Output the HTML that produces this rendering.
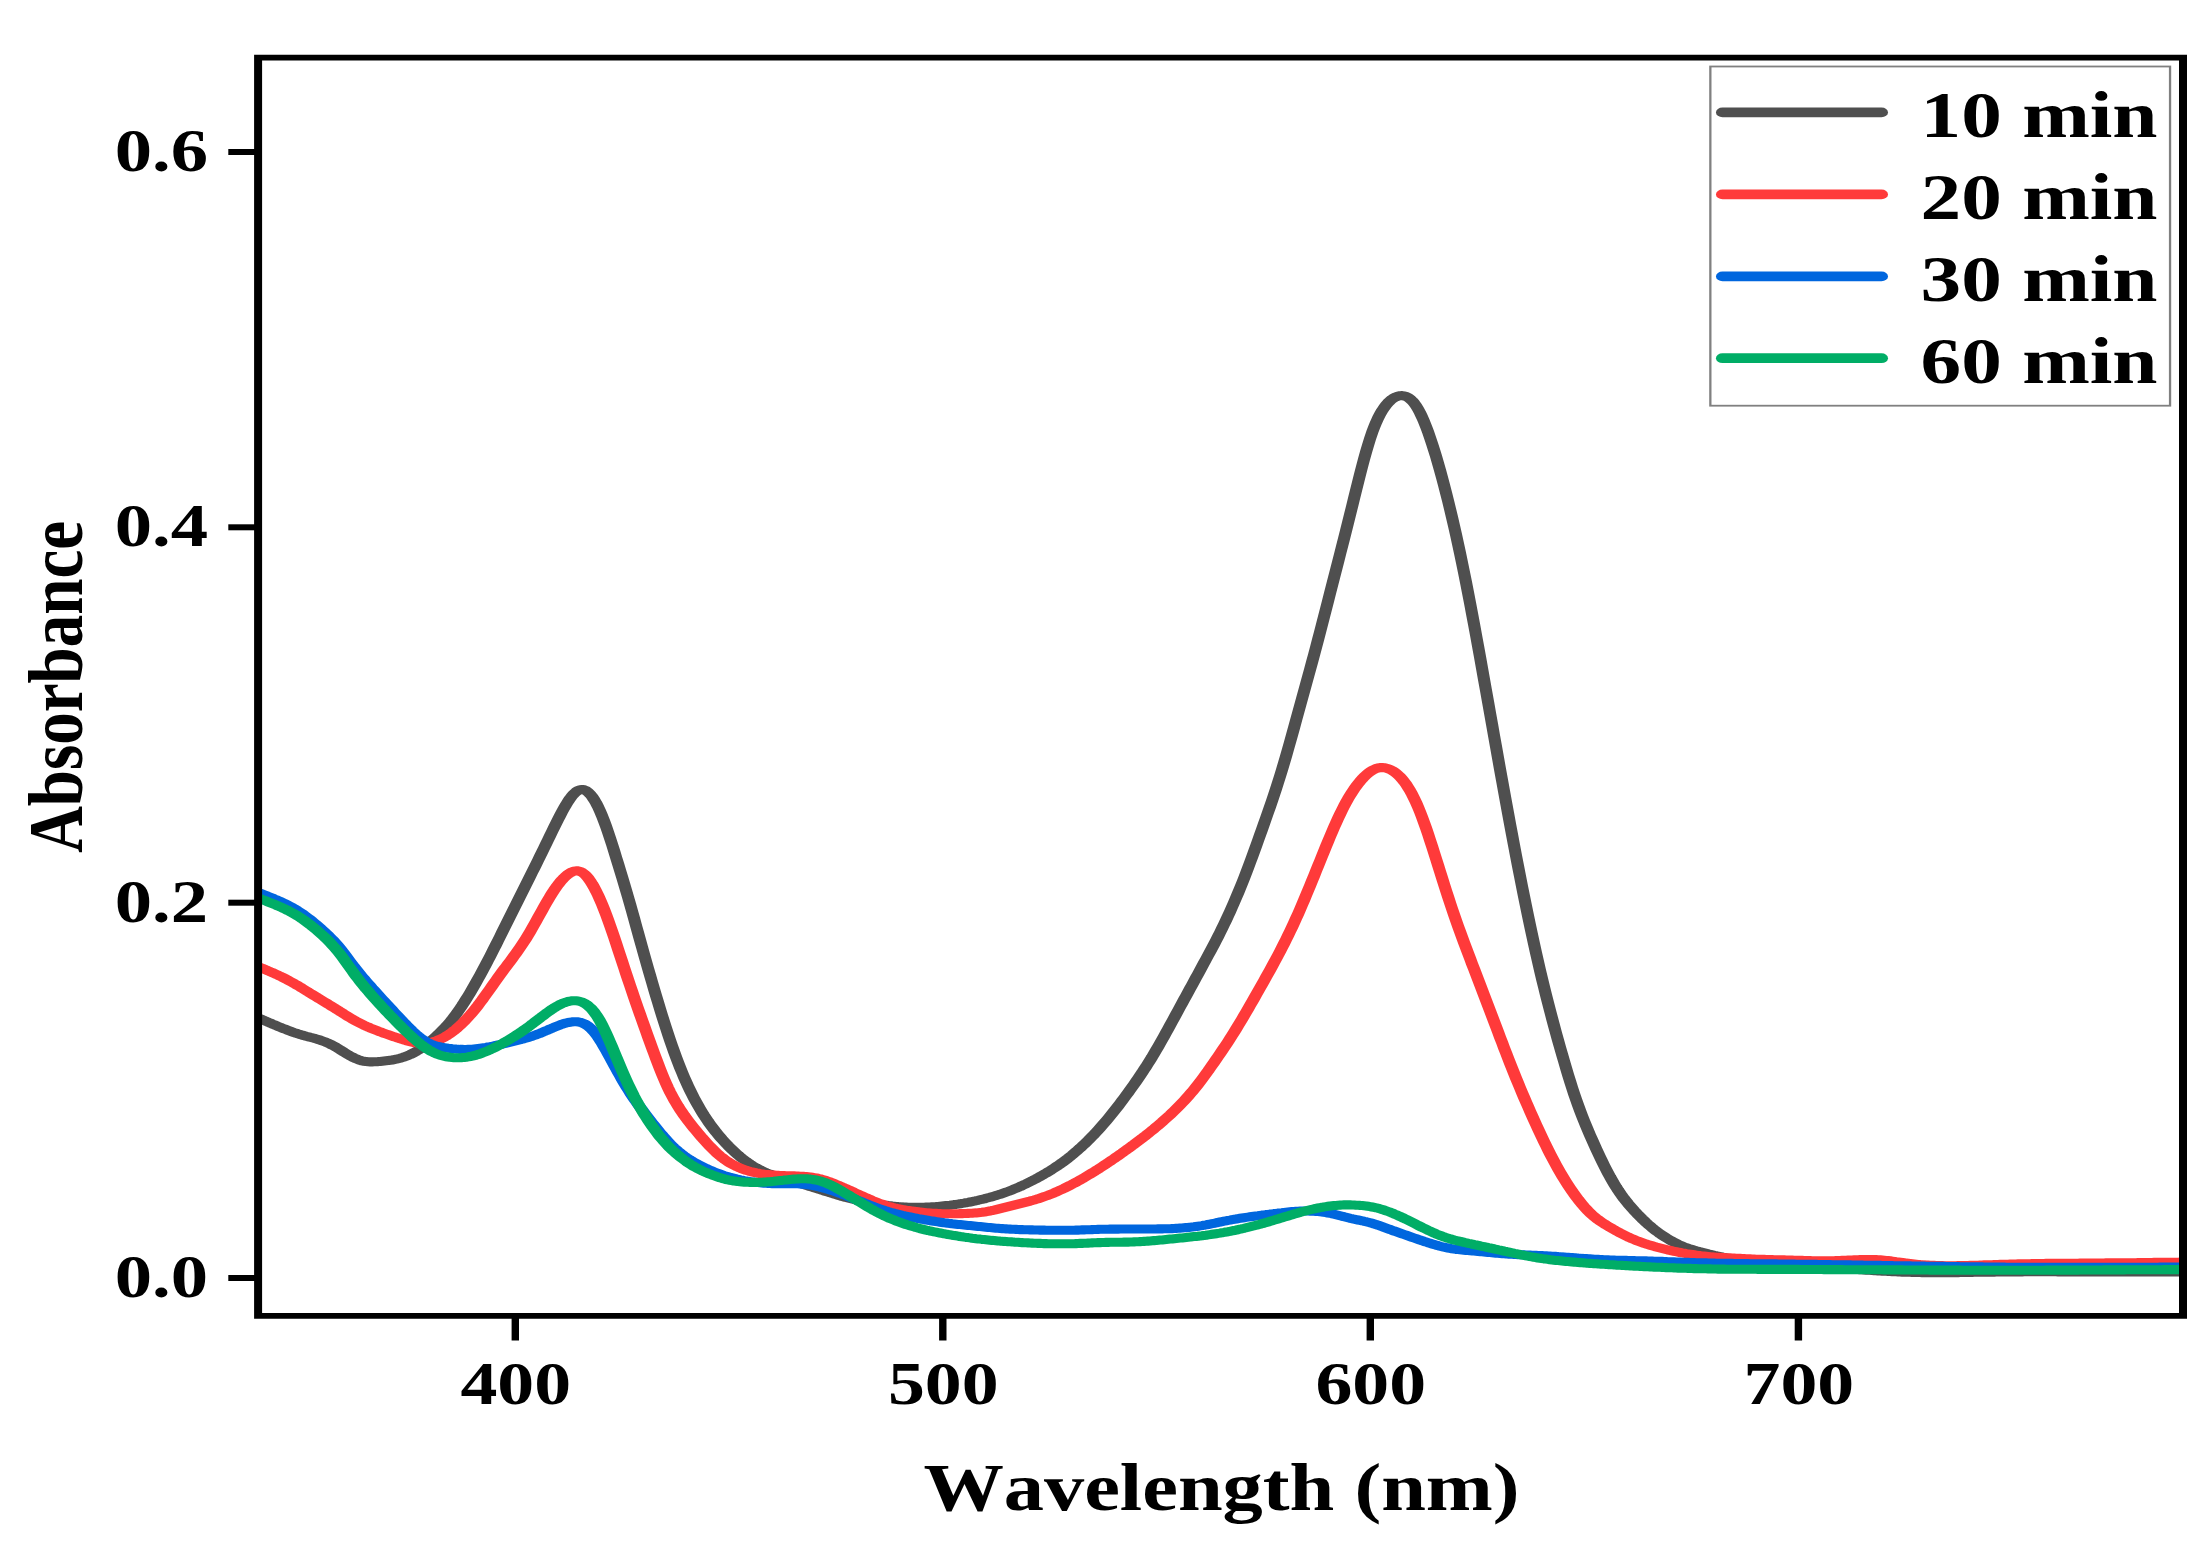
<!DOCTYPE html>
<html lang="en"><head><meta charset="utf-8"><title>Absorbance vs Wavelength</title>
<style>
html,body{margin:0;padding:0;background:#fff;}
body{width:2203px;height:1542px;overflow:hidden;}
svg{display:block;}
text{font-family:"Liberation Serif","Times New Roman",serif;font-weight:bold;fill:#000;font-kerning:none;}
.c{fill:none;stroke-linejoin:round;stroke-linecap:butt;stroke-width:9.1;}
</style></head><body>
<svg width="2203" height="1542" viewBox="0 0 2203 1542">
<rect x="0" y="0" width="2203" height="1542" fill="#ffffff"/>
<defs><clipPath id="ax"><rect x="260.1" y="60.6" width="1920.9" height="1252.3000000000002"/></clipPath></defs>
<g clip-path="url(#ax)"><g transform="scale(1.33,1)">
<path class="c" stroke="#4f4f4f" d="M192.56,1017.9 L194.06,1018.0 L195.56,1018.8 L197.07,1019.6 L198.57,1020.5 L200.08,1021.3 L201.58,1022.2 L203.08,1023.0 L204.59,1023.9 L206.09,1024.7 L207.59,1025.6 L209.10,1026.4 L210.60,1027.2 L212.11,1028.1 L213.61,1028.8 L215.11,1029.6 L216.62,1030.4 L218.12,1031.1 L219.62,1031.9 L221.13,1032.6 L222.63,1033.2 L224.14,1033.9 L225.64,1034.5 L227.14,1035.1 L228.65,1035.6 L230.15,1036.2 L231.65,1036.7 L233.16,1037.3 L234.66,1037.8 L236.17,1038.3 L237.67,1038.9 L239.17,1039.5 L240.68,1040.1 L242.18,1040.8 L243.68,1041.5 L245.19,1042.3 L246.69,1043.2 L248.20,1044.1 L249.70,1045.1 L251.20,1046.2 L252.71,1047.3 L254.21,1048.5 L255.71,1049.7 L257.22,1051.0 L258.72,1052.3 L260.23,1053.5 L261.73,1054.7 L263.23,1055.8 L264.74,1056.9 L266.24,1057.9 L267.74,1058.8 L269.25,1059.6 L270.75,1060.3 L272.26,1060.9 L273.76,1061.3 L275.26,1061.6 L276.77,1061.8 L278.27,1061.9 L279.77,1061.9 L281.28,1061.8 L282.78,1061.7 L284.29,1061.6 L285.79,1061.4 L287.29,1061.2 L288.80,1061.0 L290.30,1060.8 L291.80,1060.6 L293.31,1060.3 L294.81,1060.0 L296.32,1059.6 L297.82,1059.2 L299.32,1058.7 L300.83,1058.2 L302.33,1057.6 L303.83,1057.0 L305.34,1056.2 L306.84,1055.4 L308.35,1054.6 L309.85,1053.6 L311.35,1052.6 L312.86,1051.5 L314.36,1050.3 L315.86,1049.0 L317.37,1047.6 L318.87,1046.2 L320.38,1044.7 L321.88,1043.2 L323.38,1041.5 L324.89,1039.9 L326.39,1038.1 L327.89,1036.3 L329.40,1034.5 L330.90,1032.6 L332.41,1030.6 L333.91,1028.6 L335.41,1026.5 L336.92,1024.2 L338.42,1021.9 L339.92,1019.5 L341.43,1016.9 L342.93,1014.2 L344.44,1011.4 L345.94,1008.5 L347.44,1005.6 L348.95,1002.5 L350.45,999.3 L351.95,996.1 L353.46,992.8 L354.96,989.4 L356.47,985.9 L357.97,982.4 L359.47,978.8 L360.98,975.2 L362.48,971.5 L363.98,967.8 L365.49,964.0 L366.99,960.2 L368.50,956.3 L370.00,952.4 L371.50,948.4 L373.01,944.5 L374.51,940.5 L376.02,936.5 L377.52,932.4 L379.02,928.4 L380.53,924.4 L382.03,920.4 L383.53,916.4 L385.04,912.4 L386.54,908.4 L388.05,904.4 L389.55,900.4 L391.05,896.4 L392.56,892.4 L394.06,888.4 L395.56,884.4 L397.07,880.4 L398.57,876.4 L400.08,872.3 L401.58,868.3 L403.08,864.3 L404.59,860.2 L406.09,856.1 L407.59,852.1 L409.10,848.0 L410.60,843.9 L412.11,839.7 L413.61,835.6 L415.11,831.5 L416.62,827.4 L418.12,823.4 L419.62,819.4 L421.13,815.5 L422.63,811.7 L424.14,808.1 L425.64,804.6 L427.14,801.4 L428.65,798.4 L430.15,795.8 L431.65,793.6 L433.16,791.8 L434.66,790.5 L436.17,789.7 L437.67,789.5 L439.17,789.8 L440.68,790.7 L442.18,792.2 L443.68,794.2 L445.19,796.6 L446.69,799.6 L448.20,803.0 L449.70,806.9 L451.20,811.3 L452.71,816.0 L454.21,821.1 L455.71,826.5 L457.22,832.3 L458.72,838.3 L460.23,844.5 L461.73,850.9 L463.23,857.4 L464.74,863.9 L466.24,870.5 L467.74,877.1 L469.25,883.8 L470.75,890.5 L472.26,897.4 L473.76,904.3 L475.26,911.4 L476.77,918.5 L478.27,925.8 L479.77,933.0 L481.28,940.2 L482.78,947.4 L484.29,954.6 L485.79,961.6 L487.29,968.6 L488.80,975.5 L490.30,982.4 L491.80,989.2 L493.31,996.0 L494.81,1002.6 L496.32,1009.2 L497.82,1015.7 L499.32,1022.0 L500.83,1028.3 L502.33,1034.4 L503.83,1040.4 L505.34,1046.2 L506.84,1051.8 L508.35,1057.2 L509.85,1062.5 L511.35,1067.6 L512.86,1072.5 L514.36,1077.3 L515.86,1081.8 L517.37,1086.2 L518.87,1090.4 L520.38,1094.4 L521.88,1098.3 L523.38,1102.0 L524.89,1105.6 L526.39,1109.0 L527.89,1112.3 L529.40,1115.5 L530.90,1118.5 L532.41,1121.5 L533.91,1124.3 L535.41,1127.0 L536.92,1129.6 L538.42,1132.2 L539.92,1134.6 L541.43,1137.0 L542.93,1139.3 L544.44,1141.5 L545.94,1143.6 L547.44,1145.7 L548.95,1147.7 L550.45,1149.6 L551.95,1151.5 L553.46,1153.3 L554.96,1155.1 L556.47,1156.8 L557.97,1158.4 L559.47,1159.9 L560.98,1161.4 L562.48,1162.8 L563.98,1164.2 L565.49,1165.5 L566.99,1166.7 L568.50,1167.9 L570.00,1168.9 L571.50,1170.0 L573.01,1170.9 L574.51,1171.8 L576.02,1172.7 L577.52,1173.5 L579.02,1174.2 L580.53,1174.9 L582.03,1175.5 L583.53,1176.2 L585.04,1176.8 L586.54,1177.3 L588.05,1177.9 L589.55,1178.5 L591.05,1179.1 L592.56,1179.7 L594.06,1180.3 L595.56,1180.9 L597.07,1181.5 L598.57,1182.1 L600.08,1182.7 L601.58,1183.3 L603.08,1184.0 L604.59,1184.6 L606.09,1185.2 L607.59,1185.8 L609.10,1186.5 L610.60,1187.1 L612.11,1187.7 L613.61,1188.3 L615.11,1189.0 L616.62,1189.6 L618.12,1190.2 L619.62,1190.9 L621.13,1191.5 L622.63,1192.1 L624.14,1192.7 L625.64,1193.4 L627.14,1194.0 L628.65,1194.6 L630.15,1195.2 L631.65,1195.8 L633.16,1196.4 L634.66,1196.9 L636.17,1197.5 L637.67,1198.0 L639.17,1198.5 L640.68,1199.0 L642.18,1199.5 L643.68,1200.0 L645.19,1200.4 L646.69,1200.8 L648.20,1201.3 L649.70,1201.6 L651.20,1202.0 L652.71,1202.4 L654.21,1202.8 L655.71,1203.1 L657.22,1203.4 L658.72,1203.8 L660.23,1204.1 L661.73,1204.4 L663.23,1204.7 L664.74,1205.0 L666.24,1205.2 L667.74,1205.5 L669.25,1205.7 L670.75,1206.0 L672.26,1206.2 L673.76,1206.4 L675.26,1206.6 L676.77,1206.7 L678.27,1206.9 L679.77,1207.0 L681.28,1207.1 L682.78,1207.2 L684.29,1207.2 L685.79,1207.3 L687.29,1207.3 L688.80,1207.3 L690.30,1207.3 L691.80,1207.3 L693.31,1207.3 L694.81,1207.2 L696.32,1207.1 L697.82,1207.1 L699.32,1207.0 L700.83,1206.8 L702.33,1206.7 L703.83,1206.6 L705.34,1206.4 L706.84,1206.2 L708.35,1206.0 L709.85,1205.8 L711.35,1205.6 L712.86,1205.4 L714.36,1205.2 L715.86,1204.9 L717.37,1204.6 L718.87,1204.4 L720.38,1204.1 L721.88,1203.8 L723.38,1203.4 L724.89,1203.1 L726.39,1202.7 L727.89,1202.4 L729.40,1202.0 L730.90,1201.6 L732.41,1201.2 L733.91,1200.7 L735.41,1200.3 L736.92,1199.8 L738.42,1199.3 L739.92,1198.9 L741.43,1198.3 L742.93,1197.8 L744.44,1197.3 L745.94,1196.7 L747.44,1196.1 L748.95,1195.5 L750.45,1194.9 L751.95,1194.3 L753.46,1193.6 L754.96,1192.9 L756.47,1192.2 L757.97,1191.5 L759.47,1190.7 L760.98,1189.9 L762.48,1189.1 L763.98,1188.3 L765.49,1187.4 L766.99,1186.6 L768.50,1185.6 L770.00,1184.7 L771.50,1183.8 L773.01,1182.8 L774.51,1181.8 L776.02,1180.8 L777.52,1179.7 L779.02,1178.7 L780.53,1177.6 L782.03,1176.5 L783.53,1175.4 L785.04,1174.2 L786.54,1173.1 L788.05,1171.9 L789.55,1170.7 L791.05,1169.4 L792.56,1168.1 L794.06,1166.8 L795.56,1165.5 L797.07,1164.1 L798.57,1162.7 L800.08,1161.2 L801.58,1159.7 L803.08,1158.2 L804.59,1156.6 L806.09,1155.0 L807.59,1153.3 L809.10,1151.6 L810.60,1149.8 L812.11,1148.1 L813.61,1146.2 L815.11,1144.4 L816.62,1142.4 L818.12,1140.5 L819.62,1138.5 L821.13,1136.4 L822.63,1134.4 L824.14,1132.2 L825.64,1130.1 L827.14,1127.9 L828.65,1125.6 L830.15,1123.3 L831.65,1121.0 L833.16,1118.6 L834.66,1116.2 L836.17,1113.7 L837.67,1111.2 L839.17,1108.7 L840.68,1106.1 L842.18,1103.5 L843.68,1100.8 L845.19,1098.1 L846.69,1095.4 L848.20,1092.7 L849.70,1089.9 L851.20,1087.1 L852.71,1084.3 L854.21,1081.5 L855.71,1078.6 L857.22,1075.6 L858.72,1072.7 L860.23,1069.6 L861.73,1066.6 L863.23,1063.4 L864.74,1060.2 L866.24,1057.0 L867.74,1053.6 L869.25,1050.2 L870.75,1046.8 L872.26,1043.3 L873.76,1039.8 L875.26,1036.2 L876.77,1032.6 L878.27,1029.0 L879.77,1025.3 L881.28,1021.6 L882.78,1018.0 L884.29,1014.3 L885.79,1010.6 L887.29,1006.9 L888.80,1003.2 L890.30,999.5 L891.80,995.9 L893.31,992.2 L894.81,988.5 L896.32,984.9 L897.82,981.2 L899.32,977.5 L900.83,973.9 L902.33,970.2 L903.83,966.5 L905.34,962.8 L906.84,959.1 L908.35,955.4 L909.85,951.7 L911.35,948.0 L912.86,944.2 L914.36,940.4 L915.86,936.5 L917.37,932.5 L918.87,928.4 L920.38,924.3 L921.88,920.1 L923.38,915.8 L924.89,911.4 L926.39,906.9 L927.89,902.4 L929.40,897.7 L930.90,893.0 L932.41,888.2 L933.91,883.2 L935.41,878.2 L936.92,873.0 L938.42,867.8 L939.92,862.4 L941.43,857.0 L942.93,851.5 L944.44,846.0 L945.94,840.4 L947.44,834.8 L948.95,829.2 L950.45,823.5 L951.95,817.9 L953.46,812.2 L954.96,806.5 L956.47,800.6 L957.97,794.7 L959.47,788.6 L960.98,782.3 L962.48,776.0 L963.98,769.4 L965.49,762.7 L966.99,755.9 L968.50,748.9 L970.00,741.9 L971.50,734.7 L973.01,727.5 L974.51,720.2 L976.02,712.9 L977.52,705.6 L979.02,698.4 L980.53,691.1 L982.03,683.9 L983.53,676.6 L985.04,669.3 L986.54,662.0 L988.05,654.6 L989.55,647.1 L991.05,639.5 L992.56,631.9 L994.06,624.2 L995.56,616.4 L997.07,608.6 L998.57,600.8 L1000.08,592.9 L1001.58,585.1 L1003.08,577.3 L1004.59,569.6 L1006.09,561.8 L1007.59,554.0 L1009.10,546.2 L1010.60,538.3 L1012.11,530.4 L1013.61,522.4 L1015.11,514.4 L1016.62,506.3 L1018.12,498.2 L1019.62,490.1 L1021.13,482.1 L1022.63,474.1 L1024.14,466.4 L1025.64,458.9 L1027.14,451.7 L1028.65,444.9 L1030.15,438.5 L1031.65,432.6 L1033.16,427.3 L1034.66,422.4 L1036.17,418.0 L1037.67,414.1 L1039.17,410.7 L1040.68,407.7 L1042.18,405.0 L1043.68,402.7 L1045.19,400.8 L1046.69,399.1 L1048.20,397.8 L1049.70,396.8 L1051.20,396.1 L1052.71,395.7 L1054.21,395.6 L1055.71,395.9 L1057.22,396.5 L1058.72,397.5 L1060.23,399.0 L1061.73,400.8 L1063.23,403.1 L1064.74,405.9 L1066.24,409.1 L1067.74,412.9 L1069.25,417.1 L1070.75,421.7 L1072.26,426.8 L1073.76,432.1 L1075.26,437.8 L1076.77,443.8 L1078.27,450.1 L1079.77,456.6 L1081.28,463.4 L1082.78,470.5 L1084.29,477.8 L1085.79,485.3 L1087.29,493.1 L1088.80,501.0 L1090.30,509.2 L1091.80,517.6 L1093.31,526.3 L1094.81,535.1 L1096.32,544.2 L1097.82,553.5 L1099.32,563.1 L1100.83,572.9 L1102.33,582.8 L1103.83,593.0 L1105.34,603.4 L1106.84,614.0 L1108.35,624.6 L1109.85,635.5 L1111.35,646.4 L1112.86,657.4 L1114.36,668.6 L1115.86,679.8 L1117.37,691.0 L1118.87,702.2 L1120.38,713.5 L1121.88,724.7 L1123.38,736.0 L1124.89,747.2 L1126.39,758.4 L1127.89,769.6 L1129.40,780.7 L1130.90,791.7 L1132.41,802.7 L1133.91,813.5 L1135.41,824.3 L1136.92,835.0 L1138.42,845.6 L1139.92,856.1 L1141.43,866.5 L1142.93,876.7 L1144.44,886.8 L1145.94,896.7 L1147.44,906.5 L1148.95,916.2 L1150.45,925.7 L1151.95,935.0 L1153.46,944.2 L1154.96,953.2 L1156.47,962.0 L1157.97,970.7 L1159.47,979.1 L1160.98,987.3 L1162.48,995.4 L1163.98,1003.2 L1165.49,1010.9 L1166.99,1018.5 L1168.50,1026.0 L1170.00,1033.3 L1171.50,1040.5 L1173.01,1047.6 L1174.51,1054.5 L1176.02,1061.4 L1177.52,1068.2 L1179.02,1074.9 L1180.53,1081.4 L1182.03,1087.7 L1183.53,1093.8 L1185.04,1099.7 L1186.54,1105.3 L1188.05,1110.8 L1189.55,1116.0 L1191.05,1121.0 L1192.56,1125.9 L1194.06,1130.7 L1195.56,1135.3 L1197.07,1139.8 L1198.57,1144.3 L1200.08,1148.7 L1201.58,1153.0 L1203.08,1157.3 L1204.59,1161.4 L1206.09,1165.5 L1207.59,1169.4 L1209.10,1173.2 L1210.60,1176.9 L1212.11,1180.4 L1213.61,1183.8 L1215.11,1187.1 L1216.62,1190.2 L1218.12,1193.1 L1219.62,1196.0 L1221.13,1198.7 L1222.63,1201.2 L1224.14,1203.7 L1225.64,1206.0 L1227.14,1208.3 L1228.65,1210.6 L1230.15,1212.7 L1231.65,1214.8 L1233.16,1216.8 L1234.66,1218.8 L1236.17,1220.7 L1237.67,1222.6 L1239.17,1224.4 L1240.68,1226.1 L1242.18,1227.8 L1243.68,1229.4 L1245.19,1230.9 L1246.69,1232.4 L1248.20,1233.9 L1249.70,1235.2 L1251.20,1236.5 L1252.71,1237.8 L1254.21,1239.0 L1255.71,1240.2 L1257.22,1241.3 L1258.72,1242.4 L1260.23,1243.4 L1261.73,1244.4 L1263.23,1245.3 L1264.74,1246.1 L1266.24,1246.9 L1267.74,1247.7 L1269.25,1248.3 L1270.75,1249.0 L1272.26,1249.6 L1273.76,1250.2 L1275.26,1250.8 L1276.77,1251.3 L1278.27,1251.9 L1279.77,1252.4 L1281.28,1252.9 L1282.78,1253.4 L1284.29,1253.9 L1285.79,1254.3 L1287.29,1254.8 L1288.80,1255.3 L1290.30,1255.7 L1291.80,1256.2 L1293.31,1256.6 L1294.81,1257.0 L1296.32,1257.5 L1297.82,1257.9 L1299.32,1258.3 L1300.83,1258.7 L1302.33,1259.1 L1303.83,1259.4 L1305.34,1259.8 L1306.84,1260.1 L1308.35,1260.5 L1309.85,1260.8 L1311.35,1261.1 L1312.86,1261.4 L1314.36,1261.7 L1315.86,1262.0 L1317.37,1262.3 L1318.87,1262.5 L1320.38,1262.7 L1321.88,1263.0 L1323.38,1263.2 L1324.89,1263.4 L1326.39,1263.6 L1327.89,1263.8 L1329.40,1263.9 L1330.90,1264.1 L1332.41,1264.3 L1333.91,1264.4 L1335.41,1264.6 L1336.92,1264.7 L1338.42,1264.9 L1339.92,1265.0 L1341.43,1265.1 L1342.93,1265.2 L1344.44,1265.3 L1345.94,1265.5 L1347.44,1265.6 L1348.95,1265.7 L1350.45,1265.8 L1351.95,1265.9 L1353.46,1266.0 L1354.96,1266.1 L1356.47,1266.2 L1357.97,1266.4 L1359.47,1266.5 L1360.98,1266.6 L1362.48,1266.7 L1363.98,1266.8 L1365.49,1266.9 L1366.99,1267.0 L1368.50,1267.2 L1370.00,1267.3 L1371.50,1267.4 L1373.01,1267.5 L1374.51,1267.6 L1376.02,1267.7 L1377.52,1267.9 L1379.02,1268.0 L1380.53,1268.1 L1382.03,1268.2 L1383.53,1268.4 L1385.04,1268.5 L1386.54,1268.6 L1388.05,1268.8 L1389.55,1268.9 L1391.05,1269.0 L1392.56,1269.1 L1394.06,1269.3 L1395.56,1269.4 L1397.07,1269.5 L1398.57,1269.7 L1400.08,1269.8 L1401.58,1270.0 L1403.08,1270.1 L1404.59,1270.2 L1406.09,1270.3 L1407.59,1270.5 L1409.10,1270.6 L1410.60,1270.7 L1412.11,1270.9 L1413.61,1271.0 L1415.11,1271.1 L1416.62,1271.2 L1418.12,1271.3 L1419.62,1271.4 L1421.13,1271.5 L1422.63,1271.6 L1424.14,1271.7 L1425.64,1271.8 L1427.14,1271.9 L1428.65,1272.0 L1430.15,1272.1 L1431.65,1272.1 L1433.16,1272.2 L1434.66,1272.3 L1436.17,1272.3 L1437.67,1272.4 L1439.17,1272.4 L1440.68,1272.5 L1442.18,1272.5 L1443.68,1272.5 L1445.19,1272.6 L1446.69,1272.6 L1448.20,1272.6 L1449.70,1272.6 L1451.20,1272.6 L1452.71,1272.7 L1454.21,1272.7 L1455.71,1272.7 L1457.22,1272.7 L1458.72,1272.7 L1460.23,1272.7 L1461.73,1272.7 L1463.23,1272.6 L1464.74,1272.6 L1466.24,1272.6 L1467.74,1272.6 L1469.25,1272.6 L1470.75,1272.6 L1472.26,1272.6 L1473.76,1272.5 L1475.26,1272.5 L1476.77,1272.5 L1478.27,1272.5 L1479.77,1272.4 L1481.28,1272.4 L1482.78,1272.4 L1484.29,1272.3 L1485.79,1272.3 L1487.29,1272.3 L1488.80,1272.3 L1490.30,1272.2 L1491.80,1272.2 L1493.31,1272.2 L1494.81,1272.2 L1496.32,1272.1 L1497.82,1272.1 L1499.32,1272.1 L1500.83,1272.0 L1502.33,1272.0 L1503.83,1272.0 L1505.34,1272.0 L1506.84,1272.0 L1508.35,1271.9 L1509.85,1271.9 L1511.35,1271.9 L1512.86,1271.9 L1514.36,1271.9 L1515.86,1271.9 L1517.37,1271.9 L1518.87,1271.9 L1520.38,1271.9 L1521.88,1271.8 L1523.38,1271.8 L1524.89,1271.8 L1526.39,1271.8 L1527.89,1271.8 L1529.40,1271.8 L1530.90,1271.8 L1532.41,1271.8 L1533.91,1271.8 L1535.41,1271.8 L1536.92,1271.8 L1538.42,1271.8 L1539.92,1271.8 L1541.43,1271.8 L1542.93,1271.8 L1544.44,1271.8 L1545.94,1271.8 L1547.44,1271.9 L1548.95,1271.9 L1550.45,1271.9 L1551.95,1271.9 L1553.46,1271.9 L1554.96,1271.9 L1556.47,1271.9 L1557.97,1271.9 L1559.47,1271.9 L1560.98,1271.9 L1562.48,1271.9 L1563.98,1271.9 L1565.49,1271.9 L1566.99,1271.9 L1568.50,1272.0 L1570.00,1272.0 L1571.50,1272.0 L1573.01,1272.0 L1574.51,1272.0 L1576.02,1272.0 L1577.52,1272.0 L1579.02,1272.0 L1580.53,1272.0 L1582.03,1272.0 L1583.53,1272.0 L1585.04,1272.0 L1586.54,1272.0 L1588.05,1272.0 L1589.55,1272.0 L1591.05,1272.0 L1592.56,1272.0 L1594.06,1272.0 L1595.56,1272.0 L1597.07,1272.0 L1598.57,1272.0 L1600.08,1272.0 L1601.58,1272.0 L1603.08,1272.0 L1604.59,1272.0 L1606.09,1272.0 L1607.59,1272.0 L1609.10,1272.0 L1610.60,1272.0 L1612.11,1272.0 L1613.61,1272.0 L1615.11,1272.0 L1616.62,1272.0 L1618.12,1272.0 L1619.62,1272.0 L1621.13,1272.0 L1622.63,1272.0 L1624.14,1272.0 L1625.64,1272.0 L1627.14,1272.0 L1628.65,1272.0 L1630.15,1272.0 L1631.65,1272.0 L1633.16,1272.0 L1634.66,1272.0 L1636.17,1272.0 L1637.67,1272.0 L1639.17,1272.0 L1640.68,1272.0 L1642.18,1272.0"/>
<path class="c" stroke="#ff3a3a" d="M192.56,966.5 L194.06,966.6 L195.56,967.4 L197.07,968.2 L198.57,969.1 L200.08,969.9 L201.58,970.8 L203.08,971.7 L204.59,972.5 L206.09,973.4 L207.59,974.3 L209.10,975.2 L210.60,976.2 L212.11,977.1 L213.61,978.1 L215.11,979.1 L216.62,980.2 L218.12,981.3 L219.62,982.4 L221.13,983.5 L222.63,984.7 L224.14,985.8 L225.64,987.0 L227.14,988.3 L228.65,989.5 L230.15,990.7 L231.65,991.9 L233.16,993.2 L234.66,994.4 L236.17,995.6 L237.67,996.8 L239.17,998.1 L240.68,999.3 L242.18,1000.5 L243.68,1001.7 L245.19,1002.9 L246.69,1004.1 L248.20,1005.4 L249.70,1006.6 L251.20,1007.8 L252.71,1009.1 L254.21,1010.3 L255.71,1011.6 L257.22,1012.8 L258.72,1014.1 L260.23,1015.4 L261.73,1016.6 L263.23,1017.8 L264.74,1019.0 L266.24,1020.1 L267.74,1021.3 L269.25,1022.3 L270.75,1023.3 L272.26,1024.3 L273.76,1025.3 L275.26,1026.2 L276.77,1027.0 L278.27,1027.9 L279.77,1028.7 L281.28,1029.5 L282.78,1030.3 L284.29,1031.1 L285.79,1031.8 L287.29,1032.6 L288.80,1033.3 L290.30,1034.0 L291.80,1034.7 L293.31,1035.4 L294.81,1036.1 L296.32,1036.8 L297.82,1037.4 L299.32,1038.1 L300.83,1038.7 L302.33,1039.4 L303.83,1040.0 L305.34,1040.6 L306.84,1041.1 L308.35,1041.6 L309.85,1042.1 L311.35,1042.5 L312.86,1042.8 L314.36,1043.1 L315.86,1043.2 L317.37,1043.3 L318.87,1043.2 L320.38,1043.1 L321.88,1042.8 L323.38,1042.5 L324.89,1042.1 L326.39,1041.5 L327.89,1040.9 L329.40,1040.1 L330.90,1039.3 L332.41,1038.4 L333.91,1037.3 L335.41,1036.2 L336.92,1034.9 L338.42,1033.6 L339.92,1032.1 L341.43,1030.6 L342.93,1029.0 L344.44,1027.2 L345.94,1025.4 L347.44,1023.5 L348.95,1021.5 L350.45,1019.4 L351.95,1017.2 L353.46,1015.0 L354.96,1012.7 L356.47,1010.3 L357.97,1007.8 L359.47,1005.3 L360.98,1002.6 L362.48,1000.0 L363.98,997.2 L365.49,994.4 L366.99,991.6 L368.50,988.8 L370.00,986.0 L371.50,983.1 L373.01,980.3 L374.51,977.5 L376.02,974.8 L377.52,972.0 L379.02,969.3 L380.53,966.7 L382.03,964.0 L383.53,961.4 L385.04,958.7 L386.54,955.9 L388.05,953.2 L389.55,950.4 L391.05,947.5 L392.56,944.5 L394.06,941.5 L395.56,938.4 L397.07,935.1 L398.57,931.8 L400.08,928.3 L401.58,924.8 L403.08,921.2 L404.59,917.6 L406.09,914.0 L407.59,910.4 L409.10,906.8 L410.60,903.3 L412.11,899.9 L413.61,896.5 L415.11,893.3 L416.62,890.2 L418.12,887.3 L419.62,884.6 L421.13,882.1 L422.63,879.8 L424.14,877.7 L425.64,875.8 L427.14,874.2 L428.65,872.9 L430.15,871.9 L431.65,871.2 L433.16,870.8 L434.66,870.9 L436.17,871.5 L437.67,872.4 L439.17,873.9 L440.68,875.7 L442.18,878.0 L443.68,880.8 L445.19,883.9 L446.69,887.4 L448.20,891.2 L449.70,895.3 L451.20,899.7 L452.71,904.4 L454.21,909.4 L455.71,914.6 L457.22,920.0 L458.72,925.6 L460.23,931.4 L461.73,937.2 L463.23,943.2 L464.74,949.3 L466.24,955.3 L467.74,961.4 L469.25,967.5 L470.75,973.6 L472.26,979.6 L473.76,985.5 L475.26,991.4 L476.77,997.3 L478.27,1003.1 L479.77,1008.8 L481.28,1014.5 L482.78,1020.2 L484.29,1025.8 L485.79,1031.4 L487.29,1037.0 L488.80,1042.5 L490.30,1048.0 L491.80,1053.4 L493.31,1058.8 L494.81,1064.1 L496.32,1069.2 L497.82,1074.2 L499.32,1079.0 L500.83,1083.6 L502.33,1088.0 L503.83,1092.1 L505.34,1095.9 L506.84,1099.6 L508.35,1103.0 L509.85,1106.3 L511.35,1109.4 L512.86,1112.4 L514.36,1115.3 L515.86,1118.0 L517.37,1120.7 L518.87,1123.3 L520.38,1125.8 L521.88,1128.3 L523.38,1130.7 L524.89,1133.1 L526.39,1135.4 L527.89,1137.8 L529.40,1140.1 L530.90,1142.3 L532.41,1144.5 L533.91,1146.6 L535.41,1148.6 L536.92,1150.6 L538.42,1152.5 L539.92,1154.3 L541.43,1156.0 L542.93,1157.6 L544.44,1159.1 L545.94,1160.5 L547.44,1161.9 L548.95,1163.1 L550.45,1164.3 L551.95,1165.3 L553.46,1166.3 L554.96,1167.2 L556.47,1168.1 L557.97,1168.9 L559.47,1169.6 L560.98,1170.3 L562.48,1170.9 L563.98,1171.5 L565.49,1172.0 L566.99,1172.4 L568.50,1172.9 L570.00,1173.2 L571.50,1173.6 L573.01,1173.9 L574.51,1174.2 L576.02,1174.4 L577.52,1174.6 L579.02,1174.8 L580.53,1175.0 L582.03,1175.1 L583.53,1175.3 L585.04,1175.4 L586.54,1175.5 L588.05,1175.5 L589.55,1175.6 L591.05,1175.7 L592.56,1175.7 L594.06,1175.8 L595.56,1175.9 L597.07,1175.9 L598.57,1176.0 L600.08,1176.1 L601.58,1176.2 L603.08,1176.3 L604.59,1176.4 L606.09,1176.6 L607.59,1176.8 L609.10,1177.0 L610.60,1177.3 L612.11,1177.6 L613.61,1177.9 L615.11,1178.4 L616.62,1178.8 L618.12,1179.4 L619.62,1180.0 L621.13,1180.6 L622.63,1181.3 L624.14,1182.0 L625.64,1182.8 L627.14,1183.6 L628.65,1184.4 L630.15,1185.2 L631.65,1186.1 L633.16,1187.0 L634.66,1187.8 L636.17,1188.7 L637.67,1189.6 L639.17,1190.5 L640.68,1191.4 L642.18,1192.4 L643.68,1193.3 L645.19,1194.2 L646.69,1195.1 L648.20,1196.0 L649.70,1196.9 L651.20,1197.8 L652.71,1198.6 L654.21,1199.5 L655.71,1200.4 L657.22,1201.2 L658.72,1202.0 L660.23,1202.8 L661.73,1203.5 L663.23,1204.2 L664.74,1204.9 L666.24,1205.6 L667.74,1206.2 L669.25,1206.7 L670.75,1207.3 L672.26,1207.8 L673.76,1208.2 L675.26,1208.7 L676.77,1209.1 L678.27,1209.5 L679.77,1209.8 L681.28,1210.2 L682.78,1210.5 L684.29,1210.8 L685.79,1211.1 L687.29,1211.3 L688.80,1211.6 L690.30,1211.8 L691.80,1212.1 L693.31,1212.3 L694.81,1212.5 L696.32,1212.7 L697.82,1212.9 L699.32,1213.0 L700.83,1213.2 L702.33,1213.3 L703.83,1213.4 L705.34,1213.5 L706.84,1213.6 L708.35,1213.7 L709.85,1213.7 L711.35,1213.7 L712.86,1213.8 L714.36,1213.8 L715.86,1213.8 L717.37,1213.7 L718.87,1213.7 L720.38,1213.7 L721.88,1213.6 L723.38,1213.6 L724.89,1213.5 L726.39,1213.5 L727.89,1213.4 L729.40,1213.3 L730.90,1213.2 L732.41,1213.0 L733.91,1212.9 L735.41,1212.7 L736.92,1212.5 L738.42,1212.3 L739.92,1212.0 L741.43,1211.7 L742.93,1211.3 L744.44,1211.0 L745.94,1210.5 L747.44,1210.1 L748.95,1209.6 L750.45,1209.1 L751.95,1208.6 L753.46,1208.1 L754.96,1207.6 L756.47,1207.1 L757.97,1206.6 L759.47,1206.1 L760.98,1205.6 L762.48,1205.1 L763.98,1204.6 L765.49,1204.1 L766.99,1203.6 L768.50,1203.1 L770.00,1202.6 L771.50,1202.1 L773.01,1201.6 L774.51,1201.1 L776.02,1200.5 L777.52,1200.0 L779.02,1199.4 L780.53,1198.8 L782.03,1198.1 L783.53,1197.4 L785.04,1196.7 L786.54,1196.0 L788.05,1195.3 L789.55,1194.5 L791.05,1193.7 L792.56,1192.9 L794.06,1192.0 L795.56,1191.1 L797.07,1190.2 L798.57,1189.3 L800.08,1188.4 L801.58,1187.4 L803.08,1186.4 L804.59,1185.4 L806.09,1184.3 L807.59,1183.3 L809.10,1182.2 L810.60,1181.1 L812.11,1180.0 L813.61,1178.9 L815.11,1177.7 L816.62,1176.5 L818.12,1175.3 L819.62,1174.1 L821.13,1172.9 L822.63,1171.7 L824.14,1170.4 L825.64,1169.2 L827.14,1167.9 L828.65,1166.6 L830.15,1165.3 L831.65,1164.0 L833.16,1162.6 L834.66,1161.3 L836.17,1159.9 L837.67,1158.6 L839.17,1157.2 L840.68,1155.8 L842.18,1154.4 L843.68,1153.0 L845.19,1151.5 L846.69,1150.1 L848.20,1148.7 L849.70,1147.2 L851.20,1145.7 L852.71,1144.3 L854.21,1142.8 L855.71,1141.3 L857.22,1139.8 L858.72,1138.3 L860.23,1136.7 L861.73,1135.2 L863.23,1133.6 L864.74,1132.0 L866.24,1130.4 L867.74,1128.8 L869.25,1127.1 L870.75,1125.4 L872.26,1123.7 L873.76,1122.0 L875.26,1120.2 L876.77,1118.4 L878.27,1116.6 L879.77,1114.8 L881.28,1112.9 L882.78,1111.0 L884.29,1109.0 L885.79,1107.0 L887.29,1105.0 L888.80,1102.9 L890.30,1100.8 L891.80,1098.6 L893.31,1096.4 L894.81,1094.1 L896.32,1091.8 L897.82,1089.4 L899.32,1086.9 L900.83,1084.4 L902.33,1081.8 L903.83,1079.1 L905.34,1076.4 L906.84,1073.6 L908.35,1070.9 L909.85,1068.0 L911.35,1065.2 L912.86,1062.3 L914.36,1059.4 L915.86,1056.5 L917.37,1053.6 L918.87,1050.6 L920.38,1047.7 L921.88,1044.7 L923.38,1041.7 L924.89,1038.6 L926.39,1035.4 L927.89,1032.3 L929.40,1029.0 L930.90,1025.7 L932.41,1022.4 L933.91,1019.1 L935.41,1015.7 L936.92,1012.2 L938.42,1008.8 L939.92,1005.3 L941.43,1001.9 L942.93,998.4 L944.44,994.8 L945.94,991.3 L947.44,987.8 L948.95,984.2 L950.45,980.7 L951.95,977.1 L953.46,973.5 L954.96,969.9 L956.47,966.2 L957.97,962.6 L959.47,958.8 L960.98,955.1 L962.48,951.3 L963.98,947.4 L965.49,943.5 L966.99,939.5 L968.50,935.4 L970.00,931.3 L971.50,927.1 L973.01,922.7 L974.51,918.3 L976.02,913.9 L977.52,909.3 L979.02,904.7 L980.53,900.0 L982.03,895.2 L983.53,890.4 L985.04,885.6 L986.54,880.7 L988.05,875.8 L989.55,870.8 L991.05,865.9 L992.56,861.0 L994.06,856.0 L995.56,851.1 L997.07,846.2 L998.57,841.3 L1000.08,836.5 L1001.58,831.8 L1003.08,827.2 L1004.59,822.7 L1006.09,818.3 L1007.59,814.1 L1009.10,810.0 L1010.60,806.0 L1012.11,802.3 L1013.61,798.7 L1015.11,795.4 L1016.62,792.2 L1018.12,789.2 L1019.62,786.4 L1021.13,783.8 L1022.63,781.3 L1024.14,779.0 L1025.64,776.9 L1027.14,775.0 L1028.65,773.3 L1030.15,771.8 L1031.65,770.5 L1033.16,769.4 L1034.66,768.6 L1036.17,768.0 L1037.67,767.6 L1039.17,767.5 L1040.68,767.7 L1042.18,768.1 L1043.68,768.7 L1045.19,769.5 L1046.69,770.5 L1048.20,771.8 L1049.70,773.3 L1051.20,775.0 L1052.71,776.9 L1054.21,779.1 L1055.71,781.6 L1057.22,784.3 L1058.72,787.4 L1060.23,790.7 L1061.73,794.3 L1063.23,798.3 L1064.74,802.5 L1066.24,807.1 L1067.74,812.0 L1069.25,817.2 L1070.75,822.7 L1072.26,828.3 L1073.76,834.2 L1075.26,840.3 L1076.77,846.4 L1078.27,852.7 L1079.77,859.0 L1081.28,865.4 L1082.78,871.8 L1084.29,878.1 L1085.79,884.5 L1087.29,890.7 L1088.80,896.9 L1090.30,903.0 L1091.80,909.0 L1093.31,914.9 L1094.81,920.6 L1096.32,926.3 L1097.82,931.8 L1099.32,937.3 L1100.83,942.7 L1102.33,948.0 L1103.83,953.3 L1105.34,958.6 L1106.84,963.9 L1108.35,969.1 L1109.85,974.3 L1111.35,979.5 L1112.86,984.8 L1114.36,990.0 L1115.86,995.2 L1117.37,1000.4 L1118.87,1005.7 L1120.38,1010.9 L1121.88,1016.2 L1123.38,1021.5 L1124.89,1026.8 L1126.39,1032.1 L1127.89,1037.4 L1129.40,1042.6 L1130.90,1047.9 L1132.41,1053.1 L1133.91,1058.3 L1135.41,1063.4 L1136.92,1068.4 L1138.42,1073.4 L1139.92,1078.4 L1141.43,1083.2 L1142.93,1088.0 L1144.44,1092.8 L1145.94,1097.5 L1147.44,1102.1 L1148.95,1106.7 L1150.45,1111.3 L1151.95,1115.8 L1153.46,1120.2 L1154.96,1124.6 L1156.47,1129.0 L1157.97,1133.3 L1159.47,1137.5 L1160.98,1141.7 L1162.48,1145.8 L1163.98,1149.8 L1165.49,1153.8 L1166.99,1157.6 L1168.50,1161.4 L1170.00,1165.1 L1171.50,1168.7 L1173.01,1172.2 L1174.51,1175.6 L1176.02,1178.9 L1177.52,1182.1 L1179.02,1185.2 L1180.53,1188.2 L1182.03,1191.1 L1183.53,1194.0 L1185.04,1196.7 L1186.54,1199.4 L1188.05,1201.9 L1189.55,1204.3 L1191.05,1206.7 L1192.56,1208.9 L1194.06,1211.0 L1195.56,1213.0 L1197.07,1214.8 L1198.57,1216.6 L1200.08,1218.2 L1201.58,1219.7 L1203.08,1221.1 L1204.59,1222.5 L1206.09,1223.7 L1207.59,1225.0 L1209.10,1226.2 L1210.60,1227.4 L1212.11,1228.5 L1213.61,1229.7 L1215.11,1230.8 L1216.62,1231.9 L1218.12,1233.0 L1219.62,1234.0 L1221.13,1235.0 L1222.63,1236.0 L1224.14,1237.0 L1225.64,1237.9 L1227.14,1238.8 L1228.65,1239.6 L1230.15,1240.4 L1231.65,1241.2 L1233.16,1241.9 L1234.66,1242.6 L1236.17,1243.3 L1237.67,1244.0 L1239.17,1244.6 L1240.68,1245.2 L1242.18,1245.8 L1243.68,1246.4 L1245.19,1247.0 L1246.69,1247.5 L1248.20,1248.0 L1249.70,1248.5 L1251.20,1249.0 L1252.71,1249.5 L1254.21,1250.0 L1255.71,1250.4 L1257.22,1250.9 L1258.72,1251.3 L1260.23,1251.7 L1261.73,1252.1 L1263.23,1252.5 L1264.74,1252.9 L1266.24,1253.2 L1267.74,1253.6 L1269.25,1253.9 L1270.75,1254.2 L1272.26,1254.5 L1273.76,1254.8 L1275.26,1255.1 L1276.77,1255.4 L1278.27,1255.6 L1279.77,1255.9 L1281.28,1256.1 L1282.78,1256.3 L1284.29,1256.5 L1285.79,1256.7 L1287.29,1256.9 L1288.80,1257.0 L1290.30,1257.2 L1291.80,1257.3 L1293.31,1257.4 L1294.81,1257.5 L1296.32,1257.6 L1297.82,1257.7 L1299.32,1257.8 L1300.83,1257.9 L1302.33,1258.0 L1303.83,1258.1 L1305.34,1258.2 L1306.84,1258.3 L1308.35,1258.4 L1309.85,1258.5 L1311.35,1258.6 L1312.86,1258.7 L1314.36,1258.8 L1315.86,1258.9 L1317.37,1259.0 L1318.87,1259.1 L1320.38,1259.2 L1321.88,1259.2 L1323.38,1259.3 L1324.89,1259.4 L1326.39,1259.4 L1327.89,1259.5 L1329.40,1259.5 L1330.90,1259.6 L1332.41,1259.6 L1333.91,1259.7 L1335.41,1259.7 L1336.92,1259.8 L1338.42,1259.8 L1339.92,1259.8 L1341.43,1259.9 L1342.93,1260.0 L1344.44,1260.0 L1345.94,1260.1 L1347.44,1260.1 L1348.95,1260.2 L1350.45,1260.3 L1351.95,1260.3 L1353.46,1260.4 L1354.96,1260.4 L1356.47,1260.5 L1357.97,1260.5 L1359.47,1260.6 L1360.98,1260.6 L1362.48,1260.7 L1363.98,1260.7 L1365.49,1260.7 L1366.99,1260.8 L1368.50,1260.8 L1370.00,1260.8 L1371.50,1260.8 L1373.01,1260.8 L1374.51,1260.8 L1376.02,1260.8 L1377.52,1260.7 L1379.02,1260.7 L1380.53,1260.6 L1382.03,1260.6 L1383.53,1260.5 L1385.04,1260.4 L1386.54,1260.3 L1388.05,1260.2 L1389.55,1260.1 L1391.05,1260.0 L1392.56,1260.0 L1394.06,1259.9 L1395.56,1259.8 L1397.07,1259.7 L1398.57,1259.6 L1400.08,1259.6 L1401.58,1259.5 L1403.08,1259.5 L1404.59,1259.5 L1406.09,1259.5 L1407.59,1259.5 L1409.10,1259.6 L1410.60,1259.6 L1412.11,1259.7 L1413.61,1259.8 L1415.11,1260.0 L1416.62,1260.2 L1418.12,1260.4 L1419.62,1260.6 L1421.13,1260.8 L1422.63,1261.1 L1424.14,1261.4 L1425.64,1261.7 L1427.14,1261.9 L1428.65,1262.2 L1430.15,1262.5 L1431.65,1262.8 L1433.16,1263.1 L1434.66,1263.3 L1436.17,1263.6 L1437.67,1263.8 L1439.17,1264.0 L1440.68,1264.2 L1442.18,1264.4 L1443.68,1264.6 L1445.19,1264.7 L1446.69,1264.9 L1448.20,1265.0 L1449.70,1265.1 L1451.20,1265.2 L1452.71,1265.3 L1454.21,1265.4 L1455.71,1265.5 L1457.22,1265.5 L1458.72,1265.6 L1460.23,1265.6 L1461.73,1265.7 L1463.23,1265.7 L1464.74,1265.7 L1466.24,1265.7 L1467.74,1265.7 L1469.25,1265.7 L1470.75,1265.7 L1472.26,1265.6 L1473.76,1265.6 L1475.26,1265.6 L1476.77,1265.5 L1478.27,1265.5 L1479.77,1265.5 L1481.28,1265.4 L1482.78,1265.3 L1484.29,1265.3 L1485.79,1265.2 L1487.29,1265.2 L1488.80,1265.1 L1490.30,1265.0 L1491.80,1264.9 L1493.31,1264.9 L1494.81,1264.8 L1496.32,1264.7 L1497.82,1264.7 L1499.32,1264.6 L1500.83,1264.5 L1502.33,1264.5 L1503.83,1264.4 L1505.34,1264.3 L1506.84,1264.3 L1508.35,1264.2 L1509.85,1264.2 L1511.35,1264.1 L1512.86,1264.1 L1514.36,1264.0 L1515.86,1264.0 L1517.37,1263.9 L1518.87,1263.9 L1520.38,1263.8 L1521.88,1263.8 L1523.38,1263.7 L1524.89,1263.7 L1526.39,1263.7 L1527.89,1263.6 L1529.40,1263.6 L1530.90,1263.6 L1532.41,1263.5 L1533.91,1263.5 L1535.41,1263.5 L1536.92,1263.5 L1538.42,1263.4 L1539.92,1263.4 L1541.43,1263.4 L1542.93,1263.4 L1544.44,1263.4 L1545.94,1263.3 L1547.44,1263.3 L1548.95,1263.3 L1550.45,1263.3 L1551.95,1263.3 L1553.46,1263.2 L1554.96,1263.2 L1556.47,1263.2 L1557.97,1263.2 L1559.47,1263.2 L1560.98,1263.2 L1562.48,1263.2 L1563.98,1263.1 L1565.49,1263.1 L1566.99,1263.1 L1568.50,1263.1 L1570.00,1263.1 L1571.50,1263.1 L1573.01,1263.1 L1574.51,1263.0 L1576.02,1263.0 L1577.52,1263.0 L1579.02,1263.0 L1580.53,1263.0 L1582.03,1263.0 L1583.53,1262.9 L1585.04,1262.9 L1586.54,1262.9 L1588.05,1262.9 L1589.55,1262.9 L1591.05,1262.9 L1592.56,1262.8 L1594.06,1262.8 L1595.56,1262.8 L1597.07,1262.8 L1598.57,1262.8 L1600.08,1262.7 L1601.58,1262.7 L1603.08,1262.7 L1604.59,1262.7 L1606.09,1262.7 L1607.59,1262.6 L1609.10,1262.6 L1610.60,1262.6 L1612.11,1262.6 L1613.61,1262.5 L1615.11,1262.5 L1616.62,1262.5 L1618.12,1262.5 L1619.62,1262.4 L1621.13,1262.4 L1622.63,1262.4 L1624.14,1262.4 L1625.64,1262.4 L1627.14,1262.3 L1628.65,1262.3 L1630.15,1262.3 L1631.65,1262.3 L1633.16,1262.2 L1634.66,1262.2 L1636.17,1262.2 L1637.67,1262.2 L1639.17,1262.1 L1640.68,1262.1 L1642.18,1262.1"/>
<path class="c" stroke="#0066de" d="M192.56,892.5 L194.06,892.5 L195.56,893.3 L197.07,894.1 L198.57,894.9 L200.08,895.6 L201.58,896.4 L203.08,897.2 L204.59,898.0 L206.09,898.9 L207.59,899.7 L209.10,900.6 L210.60,901.5 L212.11,902.4 L213.61,903.3 L215.11,904.3 L216.62,905.3 L218.12,906.4 L219.62,907.5 L221.13,908.6 L222.63,909.8 L224.14,911.1 L225.64,912.4 L227.14,913.7 L228.65,915.1 L230.15,916.6 L231.65,918.1 L233.16,919.6 L234.66,921.2 L236.17,922.9 L237.67,924.6 L239.17,926.3 L240.68,928.0 L242.18,929.8 L243.68,931.6 L245.19,933.5 L246.69,935.4 L248.20,937.4 L249.70,939.4 L251.20,941.5 L252.71,943.8 L254.21,946.1 L255.71,948.5 L257.22,950.9 L258.72,953.5 L260.23,956.2 L261.73,958.9 L263.23,961.6 L264.74,964.2 L266.24,966.9 L267.74,969.4 L269.25,971.9 L270.75,974.4 L272.26,976.8 L273.76,979.1 L275.26,981.4 L276.77,983.7 L278.27,985.9 L279.77,988.2 L281.28,990.4 L282.78,992.6 L284.29,994.8 L285.79,997.0 L287.29,999.2 L288.80,1001.4 L290.30,1003.6 L291.80,1005.7 L293.31,1007.9 L294.81,1010.0 L296.32,1012.2 L297.82,1014.3 L299.32,1016.4 L300.83,1018.6 L302.33,1020.7 L303.83,1022.8 L305.34,1024.8 L306.84,1026.9 L308.35,1028.8 L309.85,1030.8 L311.35,1032.6 L312.86,1034.4 L314.36,1036.1 L315.86,1037.7 L317.37,1039.2 L318.87,1040.5 L320.38,1041.8 L321.88,1042.9 L323.38,1043.9 L324.89,1044.7 L326.39,1045.4 L327.89,1046.0 L329.40,1046.5 L330.90,1046.9 L332.41,1047.3 L333.91,1047.6 L335.41,1047.9 L336.92,1048.2 L338.42,1048.4 L339.92,1048.7 L341.43,1048.9 L342.93,1049.1 L344.44,1049.2 L345.94,1049.4 L347.44,1049.4 L348.95,1049.5 L350.45,1049.5 L351.95,1049.4 L353.46,1049.3 L354.96,1049.2 L356.47,1049.0 L357.97,1048.8 L359.47,1048.6 L360.98,1048.3 L362.48,1048.1 L363.98,1047.7 L365.49,1047.4 L366.99,1047.0 L368.50,1046.7 L370.00,1046.3 L371.50,1045.9 L373.01,1045.4 L374.51,1045.0 L376.02,1044.6 L377.52,1044.1 L379.02,1043.7 L380.53,1043.2 L382.03,1042.7 L383.53,1042.2 L385.04,1041.7 L386.54,1041.2 L388.05,1040.7 L389.55,1040.2 L391.05,1039.7 L392.56,1039.1 L394.06,1038.6 L395.56,1038.0 L397.07,1037.4 L398.57,1036.8 L400.08,1036.2 L401.58,1035.5 L403.08,1034.8 L404.59,1034.0 L406.09,1033.3 L407.59,1032.4 L409.10,1031.6 L410.60,1030.7 L412.11,1029.9 L413.61,1029.0 L415.11,1028.2 L416.62,1027.3 L418.12,1026.5 L419.62,1025.7 L421.13,1024.9 L422.63,1024.2 L424.14,1023.6 L425.64,1023.0 L427.14,1022.5 L428.65,1022.2 L430.15,1021.9 L431.65,1021.8 L433.16,1021.8 L434.66,1021.9 L436.17,1022.3 L437.67,1022.9 L439.17,1023.7 L440.68,1024.8 L442.18,1026.2 L443.68,1027.8 L445.19,1029.8 L446.69,1031.9 L448.20,1034.4 L449.70,1037.2 L451.20,1040.2 L452.71,1043.4 L454.21,1046.8 L455.71,1050.3 L457.22,1053.9 L458.72,1057.6 L460.23,1061.3 L461.73,1064.9 L463.23,1068.6 L464.74,1072.3 L466.24,1075.8 L467.74,1079.4 L469.25,1082.8 L470.75,1086.2 L472.26,1089.4 L473.76,1092.6 L475.26,1095.6 L476.77,1098.6 L478.27,1101.5 L479.77,1104.3 L481.28,1107.1 L482.78,1109.9 L484.29,1112.5 L485.79,1115.2 L487.29,1117.8 L488.80,1120.3 L490.30,1122.9 L491.80,1125.4 L493.31,1127.9 L494.81,1130.4 L496.32,1132.8 L497.82,1135.1 L499.32,1137.4 L500.83,1139.6 L502.33,1141.8 L503.83,1143.9 L505.34,1145.9 L506.84,1147.8 L508.35,1149.6 L509.85,1151.3 L511.35,1152.9 L512.86,1154.5 L514.36,1156.0 L515.86,1157.4 L517.37,1158.7 L518.87,1159.9 L520.38,1161.2 L521.88,1162.3 L523.38,1163.4 L524.89,1164.5 L526.39,1165.5 L527.89,1166.5 L529.40,1167.5 L530.90,1168.5 L532.41,1169.4 L533.91,1170.3 L535.41,1171.1 L536.92,1171.9 L538.42,1172.7 L539.92,1173.5 L541.43,1174.2 L542.93,1174.9 L544.44,1175.6 L545.94,1176.2 L547.44,1176.8 L548.95,1177.4 L550.45,1177.9 L551.95,1178.4 L553.46,1178.9 L554.96,1179.3 L556.47,1179.8 L557.97,1180.2 L559.47,1180.6 L560.98,1180.9 L562.48,1181.3 L563.98,1181.6 L565.49,1181.9 L566.99,1182.1 L568.50,1182.4 L570.00,1182.6 L571.50,1182.8 L573.01,1183.0 L574.51,1183.2 L576.02,1183.3 L577.52,1183.4 L579.02,1183.5 L580.53,1183.6 L582.03,1183.7 L583.53,1183.7 L585.04,1183.7 L586.54,1183.7 L588.05,1183.7 L589.55,1183.7 L591.05,1183.7 L592.56,1183.7 L594.06,1183.6 L595.56,1183.7 L597.07,1183.7 L598.57,1183.8 L600.08,1183.8 L601.58,1184.0 L603.08,1184.1 L604.59,1184.3 L606.09,1184.5 L607.59,1184.8 L609.10,1185.1 L610.60,1185.4 L612.11,1185.8 L613.61,1186.2 L615.11,1186.7 L616.62,1187.1 L618.12,1187.6 L619.62,1188.2 L621.13,1188.7 L622.63,1189.3 L624.14,1189.9 L625.64,1190.5 L627.14,1191.2 L628.65,1191.9 L630.15,1192.6 L631.65,1193.3 L633.16,1194.1 L634.66,1194.8 L636.17,1195.6 L637.67,1196.4 L639.17,1197.2 L640.68,1198.0 L642.18,1198.8 L643.68,1199.7 L645.19,1200.5 L646.69,1201.3 L648.20,1202.1 L649.70,1203.0 L651.20,1203.8 L652.71,1204.6 L654.21,1205.4 L655.71,1206.1 L657.22,1206.9 L658.72,1207.6 L660.23,1208.3 L661.73,1209.0 L663.23,1209.7 L664.74,1210.3 L666.24,1211.0 L667.74,1211.6 L669.25,1212.2 L670.75,1212.7 L672.26,1213.3 L673.76,1213.8 L675.26,1214.3 L676.77,1214.8 L678.27,1215.3 L679.77,1215.7 L681.28,1216.2 L682.78,1216.6 L684.29,1217.0 L685.79,1217.4 L687.29,1217.8 L688.80,1218.2 L690.30,1218.6 L691.80,1218.9 L693.31,1219.3 L694.81,1219.6 L696.32,1220.0 L697.82,1220.3 L699.32,1220.7 L700.83,1221.0 L702.33,1221.3 L703.83,1221.6 L705.34,1221.9 L706.84,1222.2 L708.35,1222.5 L709.85,1222.8 L711.35,1223.0 L712.86,1223.3 L714.36,1223.5 L715.86,1223.8 L717.37,1224.0 L718.87,1224.2 L720.38,1224.4 L721.88,1224.6 L723.38,1224.8 L724.89,1225.0 L726.39,1225.2 L727.89,1225.4 L729.40,1225.6 L730.90,1225.8 L732.41,1226.0 L733.91,1226.2 L735.41,1226.4 L736.92,1226.6 L738.42,1226.8 L739.92,1227.0 L741.43,1227.2 L742.93,1227.4 L744.44,1227.6 L745.94,1227.8 L747.44,1228.0 L748.95,1228.2 L750.45,1228.3 L751.95,1228.5 L753.46,1228.6 L754.96,1228.8 L756.47,1228.9 L757.97,1229.0 L759.47,1229.1 L760.98,1229.2 L762.48,1229.3 L763.98,1229.4 L765.49,1229.5 L766.99,1229.6 L768.50,1229.6 L770.00,1229.7 L771.50,1229.8 L773.01,1229.8 L774.51,1229.9 L776.02,1229.9 L777.52,1230.0 L779.02,1230.0 L780.53,1230.0 L782.03,1230.1 L783.53,1230.1 L785.04,1230.1 L786.54,1230.2 L788.05,1230.2 L789.55,1230.2 L791.05,1230.2 L792.56,1230.3 L794.06,1230.3 L795.56,1230.3 L797.07,1230.3 L798.57,1230.3 L800.08,1230.3 L801.58,1230.3 L803.08,1230.3 L804.59,1230.2 L806.09,1230.2 L807.59,1230.2 L809.10,1230.1 L810.60,1230.1 L812.11,1230.0 L813.61,1229.9 L815.11,1229.9 L816.62,1229.8 L818.12,1229.7 L819.62,1229.7 L821.13,1229.6 L822.63,1229.5 L824.14,1229.5 L825.64,1229.4 L827.14,1229.3 L828.65,1229.3 L830.15,1229.2 L831.65,1229.2 L833.16,1229.2 L834.66,1229.1 L836.17,1229.1 L837.67,1229.1 L839.17,1229.1 L840.68,1229.1 L842.18,1229.0 L843.68,1229.0 L845.19,1229.0 L846.69,1229.0 L848.20,1229.0 L849.70,1229.0 L851.20,1229.0 L852.71,1229.0 L854.21,1229.0 L855.71,1229.0 L857.22,1229.0 L858.72,1229.0 L860.23,1229.0 L861.73,1229.0 L863.23,1229.0 L864.74,1229.0 L866.24,1229.0 L867.74,1229.0 L869.25,1229.0 L870.75,1228.9 L872.26,1228.9 L873.76,1228.9 L875.26,1228.8 L876.77,1228.8 L878.27,1228.7 L879.77,1228.7 L881.28,1228.6 L882.78,1228.5 L884.29,1228.4 L885.79,1228.3 L887.29,1228.1 L888.80,1228.0 L890.30,1227.8 L891.80,1227.6 L893.31,1227.5 L894.81,1227.2 L896.32,1227.0 L897.82,1226.8 L899.32,1226.5 L900.83,1226.2 L902.33,1225.9 L903.83,1225.6 L905.34,1225.2 L906.84,1224.9 L908.35,1224.5 L909.85,1224.1 L911.35,1223.7 L912.86,1223.3 L914.36,1222.9 L915.86,1222.4 L917.37,1222.0 L918.87,1221.6 L920.38,1221.2 L921.88,1220.8 L923.38,1220.4 L924.89,1220.1 L926.39,1219.7 L927.89,1219.3 L929.40,1219.0 L930.90,1218.6 L932.41,1218.3 L933.91,1218.0 L935.41,1217.7 L936.92,1217.4 L938.42,1217.1 L939.92,1216.8 L941.43,1216.5 L942.93,1216.2 L944.44,1215.9 L945.94,1215.7 L947.44,1215.4 L948.95,1215.1 L950.45,1214.9 L951.95,1214.6 L953.46,1214.4 L954.96,1214.1 L956.47,1213.9 L957.97,1213.6 L959.47,1213.4 L960.98,1213.1 L962.48,1212.9 L963.98,1212.7 L965.49,1212.4 L966.99,1212.2 L968.50,1212.0 L970.00,1211.8 L971.50,1211.6 L973.01,1211.5 L974.51,1211.3 L976.02,1211.2 L977.52,1211.1 L979.02,1211.0 L980.53,1211.0 L982.03,1211.0 L983.53,1211.0 L985.04,1211.1 L986.54,1211.1 L988.05,1211.2 L989.55,1211.4 L991.05,1211.6 L992.56,1211.8 L994.06,1212.0 L995.56,1212.3 L997.07,1212.6 L998.57,1213.0 L1000.08,1213.3 L1001.58,1213.8 L1003.08,1214.2 L1004.59,1214.7 L1006.09,1215.2 L1007.59,1215.7 L1009.10,1216.2 L1010.60,1216.8 L1012.11,1217.3 L1013.61,1217.8 L1015.11,1218.3 L1016.62,1218.7 L1018.12,1219.2 L1019.62,1219.6 L1021.13,1220.0 L1022.63,1220.4 L1024.14,1220.8 L1025.64,1221.3 L1027.14,1221.7 L1028.65,1222.2 L1030.15,1222.7 L1031.65,1223.3 L1033.16,1223.9 L1034.66,1224.6 L1036.17,1225.2 L1037.67,1225.9 L1039.17,1226.6 L1040.68,1227.4 L1042.18,1228.1 L1043.68,1228.8 L1045.19,1229.5 L1046.69,1230.3 L1048.20,1231.0 L1049.70,1231.7 L1051.20,1232.4 L1052.71,1233.1 L1054.21,1233.8 L1055.71,1234.5 L1057.22,1235.2 L1058.72,1235.9 L1060.23,1236.6 L1061.73,1237.3 L1063.23,1238.0 L1064.74,1238.7 L1066.24,1239.4 L1067.74,1240.1 L1069.25,1240.7 L1070.75,1241.4 L1072.26,1242.0 L1073.76,1242.7 L1075.26,1243.3 L1076.77,1243.9 L1078.27,1244.5 L1079.77,1245.1 L1081.28,1245.6 L1082.78,1246.2 L1084.29,1246.7 L1085.79,1247.2 L1087.29,1247.6 L1088.80,1248.0 L1090.30,1248.4 L1091.80,1248.8 L1093.31,1249.1 L1094.81,1249.4 L1096.32,1249.6 L1097.82,1249.8 L1099.32,1250.0 L1100.83,1250.2 L1102.33,1250.4 L1103.83,1250.6 L1105.34,1250.8 L1106.84,1250.9 L1108.35,1251.1 L1109.85,1251.3 L1111.35,1251.5 L1112.86,1251.6 L1114.36,1251.8 L1115.86,1252.0 L1117.37,1252.2 L1118.87,1252.4 L1120.38,1252.6 L1121.88,1252.8 L1123.38,1253.0 L1124.89,1253.2 L1126.39,1253.3 L1127.89,1253.5 L1129.40,1253.6 L1130.90,1253.8 L1132.41,1253.9 L1133.91,1254.1 L1135.41,1254.2 L1136.92,1254.3 L1138.42,1254.4 L1139.92,1254.5 L1141.43,1254.6 L1142.93,1254.7 L1144.44,1254.8 L1145.94,1254.9 L1147.44,1255.0 L1148.95,1255.0 L1150.45,1255.1 L1151.95,1255.2 L1153.46,1255.3 L1154.96,1255.4 L1156.47,1255.5 L1157.97,1255.6 L1159.47,1255.6 L1160.98,1255.7 L1162.48,1255.8 L1163.98,1256.0 L1165.49,1256.1 L1166.99,1256.2 L1168.50,1256.3 L1170.00,1256.4 L1171.50,1256.6 L1173.01,1256.7 L1174.51,1256.9 L1176.02,1257.0 L1177.52,1257.2 L1179.02,1257.3 L1180.53,1257.5 L1182.03,1257.6 L1183.53,1257.8 L1185.04,1257.9 L1186.54,1258.1 L1188.05,1258.2 L1189.55,1258.4 L1191.05,1258.5 L1192.56,1258.6 L1194.06,1258.8 L1195.56,1258.9 L1197.07,1259.0 L1198.57,1259.2 L1200.08,1259.3 L1201.58,1259.4 L1203.08,1259.5 L1204.59,1259.6 L1206.09,1259.7 L1207.59,1259.8 L1209.10,1259.9 L1210.60,1260.0 L1212.11,1260.0 L1213.61,1260.1 L1215.11,1260.2 L1216.62,1260.2 L1218.12,1260.3 L1219.62,1260.3 L1221.13,1260.4 L1222.63,1260.4 L1224.14,1260.5 L1225.64,1260.5 L1227.14,1260.6 L1228.65,1260.6 L1230.15,1260.7 L1231.65,1260.7 L1233.16,1260.8 L1234.66,1260.8 L1236.17,1260.9 L1237.67,1260.9 L1239.17,1261.0 L1240.68,1261.0 L1242.18,1261.1 L1243.68,1261.2 L1245.19,1261.2 L1246.69,1261.3 L1248.20,1261.4 L1249.70,1261.4 L1251.20,1261.5 L1252.71,1261.6 L1254.21,1261.7 L1255.71,1261.7 L1257.22,1261.8 L1258.72,1261.9 L1260.23,1262.0 L1261.73,1262.0 L1263.23,1262.1 L1264.74,1262.2 L1266.24,1262.3 L1267.74,1262.3 L1269.25,1262.4 L1270.75,1262.5 L1272.26,1262.5 L1273.76,1262.6 L1275.26,1262.7 L1276.77,1262.7 L1278.27,1262.8 L1279.77,1262.8 L1281.28,1262.9 L1282.78,1262.9 L1284.29,1263.0 L1285.79,1263.0 L1287.29,1263.1 L1288.80,1263.1 L1290.30,1263.2 L1291.80,1263.2 L1293.31,1263.2 L1294.81,1263.3 L1296.32,1263.3 L1297.82,1263.3 L1299.32,1263.4 L1300.83,1263.4 L1302.33,1263.4 L1303.83,1263.5 L1305.34,1263.5 L1306.84,1263.5 L1308.35,1263.5 L1309.85,1263.6 L1311.35,1263.6 L1312.86,1263.6 L1314.36,1263.6 L1315.86,1263.7 L1317.37,1263.7 L1318.87,1263.7 L1320.38,1263.7 L1321.88,1263.8 L1323.38,1263.8 L1324.89,1263.8 L1326.39,1263.8 L1327.89,1263.8 L1329.40,1263.9 L1330.90,1263.9 L1332.41,1263.9 L1333.91,1263.9 L1335.41,1263.9 L1336.92,1264.0 L1338.42,1264.0 L1339.92,1264.0 L1341.43,1264.0 L1342.93,1264.1 L1344.44,1264.1 L1345.94,1264.1 L1347.44,1264.1 L1348.95,1264.1 L1350.45,1264.2 L1351.95,1264.2 L1353.46,1264.2 L1354.96,1264.2 L1356.47,1264.3 L1357.97,1264.3 L1359.47,1264.3 L1360.98,1264.4 L1362.48,1264.4 L1363.98,1264.4 L1365.49,1264.4 L1366.99,1264.5 L1368.50,1264.5 L1370.00,1264.5 L1371.50,1264.5 L1373.01,1264.6 L1374.51,1264.6 L1376.02,1264.6 L1377.52,1264.7 L1379.02,1264.7 L1380.53,1264.7 L1382.03,1264.8 L1383.53,1264.8 L1385.04,1264.8 L1386.54,1264.8 L1388.05,1264.9 L1389.55,1264.9 L1391.05,1264.9 L1392.56,1265.0 L1394.06,1265.0 L1395.56,1265.0 L1397.07,1265.1 L1398.57,1265.1 L1400.08,1265.1 L1401.58,1265.2 L1403.08,1265.2 L1404.59,1265.2 L1406.09,1265.3 L1407.59,1265.3 L1409.10,1265.3 L1410.60,1265.4 L1412.11,1265.4 L1413.61,1265.4 L1415.11,1265.5 L1416.62,1265.5 L1418.12,1265.5 L1419.62,1265.6 L1421.13,1265.6 L1422.63,1265.6 L1424.14,1265.7 L1425.64,1265.7 L1427.14,1265.7 L1428.65,1265.8 L1430.15,1265.8 L1431.65,1265.8 L1433.16,1265.9 L1434.66,1265.9 L1436.17,1265.9 L1437.67,1266.0 L1439.17,1266.0 L1440.68,1266.0 L1442.18,1266.0 L1443.68,1266.1 L1445.19,1266.1 L1446.69,1266.1 L1448.20,1266.2 L1449.70,1266.2 L1451.20,1266.2 L1452.71,1266.3 L1454.21,1266.3 L1455.71,1266.3 L1457.22,1266.4 L1458.72,1266.4 L1460.23,1266.4 L1461.73,1266.4 L1463.23,1266.5 L1464.74,1266.5 L1466.24,1266.5 L1467.74,1266.6 L1469.25,1266.6 L1470.75,1266.6 L1472.26,1266.6 L1473.76,1266.7 L1475.26,1266.7 L1476.77,1266.7 L1478.27,1266.7 L1479.77,1266.8 L1481.28,1266.8 L1482.78,1266.8 L1484.29,1266.8 L1485.79,1266.9 L1487.29,1266.9 L1488.80,1266.9 L1490.30,1266.9 L1491.80,1267.0 L1493.31,1267.0 L1494.81,1267.0 L1496.32,1267.0 L1497.82,1267.0 L1499.32,1267.1 L1500.83,1267.1 L1502.33,1267.1 L1503.83,1267.1 L1505.34,1267.1 L1506.84,1267.1 L1508.35,1267.2 L1509.85,1267.2 L1511.35,1267.2 L1512.86,1267.2 L1514.36,1267.2 L1515.86,1267.2 L1517.37,1267.2 L1518.87,1267.2 L1520.38,1267.3 L1521.88,1267.3 L1523.38,1267.3 L1524.89,1267.3 L1526.39,1267.3 L1527.89,1267.3 L1529.40,1267.3 L1530.90,1267.3 L1532.41,1267.3 L1533.91,1267.3 L1535.41,1267.3 L1536.92,1267.3 L1538.42,1267.4 L1539.92,1267.4 L1541.43,1267.4 L1542.93,1267.4 L1544.44,1267.4 L1545.94,1267.4 L1547.44,1267.4 L1548.95,1267.4 L1550.45,1267.4 L1551.95,1267.4 L1553.46,1267.4 L1554.96,1267.4 L1556.47,1267.4 L1557.97,1267.4 L1559.47,1267.4 L1560.98,1267.4 L1562.48,1267.4 L1563.98,1267.4 L1565.49,1267.4 L1566.99,1267.4 L1568.50,1267.4 L1570.00,1267.4 L1571.50,1267.4 L1573.01,1267.4 L1574.51,1267.4 L1576.02,1267.4 L1577.52,1267.4 L1579.02,1267.4 L1580.53,1267.4 L1582.03,1267.4 L1583.53,1267.3 L1585.04,1267.3 L1586.54,1267.3 L1588.05,1267.3 L1589.55,1267.3 L1591.05,1267.3 L1592.56,1267.3 L1594.06,1267.3 L1595.56,1267.3 L1597.07,1267.3 L1598.57,1267.3 L1600.08,1267.3 L1601.58,1267.3 L1603.08,1267.3 L1604.59,1267.3 L1606.09,1267.3 L1607.59,1267.2 L1609.10,1267.2 L1610.60,1267.2 L1612.11,1267.2 L1613.61,1267.2 L1615.11,1267.2 L1616.62,1267.2 L1618.12,1267.2 L1619.62,1267.2 L1621.13,1267.2 L1622.63,1267.2 L1624.14,1267.1 L1625.64,1267.1 L1627.14,1267.1 L1628.65,1267.1 L1630.15,1267.1 L1631.65,1267.1 L1633.16,1267.1 L1634.66,1267.1 L1636.17,1267.1 L1637.67,1267.1 L1639.17,1267.0 L1640.68,1267.0 L1642.18,1267.0"/>
<path class="c" stroke="#00ad66" d="M192.56,898.0 L194.06,898.0 L195.56,898.8 L197.07,899.6 L198.57,900.3 L200.08,901.1 L201.58,901.9 L203.08,902.7 L204.59,903.5 L206.09,904.3 L207.59,905.1 L209.10,906.0 L210.60,906.8 L212.11,907.7 L213.61,908.7 L215.11,909.6 L216.62,910.6 L218.12,911.7 L219.62,912.7 L221.13,913.9 L222.63,915.0 L224.14,916.3 L225.64,917.5 L227.14,918.9 L228.65,920.2 L230.15,921.7 L231.65,923.2 L233.16,924.7 L234.66,926.3 L236.17,927.9 L237.67,929.6 L239.17,931.3 L240.68,933.1 L242.18,934.9 L243.68,936.7 L245.19,938.6 L246.69,940.6 L248.20,942.7 L249.70,944.8 L251.20,947.0 L252.71,949.3 L254.21,951.7 L255.71,954.2 L257.22,956.8 L258.72,959.5 L260.23,962.3 L261.73,965.1 L263.23,967.9 L264.74,970.7 L266.24,973.5 L267.74,976.2 L269.25,978.8 L270.75,981.4 L272.26,983.9 L273.76,986.3 L275.26,988.8 L276.77,991.1 L278.27,993.4 L279.77,995.7 L281.28,998.0 L282.78,1000.2 L284.29,1002.4 L285.79,1004.6 L287.29,1006.8 L288.80,1008.9 L290.30,1011.1 L291.80,1013.2 L293.31,1015.3 L294.81,1017.3 L296.32,1019.4 L297.82,1021.4 L299.32,1023.4 L300.83,1025.5 L302.33,1027.5 L303.83,1029.4 L305.34,1031.4 L306.84,1033.3 L308.35,1035.2 L309.85,1037.0 L311.35,1038.8 L312.86,1040.5 L314.36,1042.2 L315.86,1043.8 L317.37,1045.4 L318.87,1046.8 L320.38,1048.2 L321.88,1049.5 L323.38,1050.7 L324.89,1051.8 L326.39,1052.8 L327.89,1053.7 L329.40,1054.5 L330.90,1055.2 L332.41,1055.7 L333.91,1056.2 L335.41,1056.7 L336.92,1057.0 L338.42,1057.3 L339.92,1057.5 L341.43,1057.7 L342.93,1057.7 L344.44,1057.8 L345.94,1057.7 L347.44,1057.6 L348.95,1057.4 L350.45,1057.2 L351.95,1056.9 L353.46,1056.5 L354.96,1056.1 L356.47,1055.6 L357.97,1055.1 L359.47,1054.5 L360.98,1053.8 L362.48,1053.1 L363.98,1052.3 L365.49,1051.5 L366.99,1050.7 L368.50,1049.8 L370.00,1048.8 L371.50,1047.9 L373.01,1046.9 L374.51,1045.8 L376.02,1044.8 L377.52,1043.7 L379.02,1042.5 L380.53,1041.4 L382.03,1040.2 L383.53,1039.0 L385.04,1037.8 L386.54,1036.6 L388.05,1035.3 L389.55,1034.0 L391.05,1032.7 L392.56,1031.3 L394.06,1029.9 L395.56,1028.5 L397.07,1027.1 L398.57,1025.6 L400.08,1024.1 L401.58,1022.5 L403.08,1021.0 L404.59,1019.5 L406.09,1018.0 L407.59,1016.4 L409.10,1014.9 L410.60,1013.4 L412.11,1012.0 L413.61,1010.6 L415.11,1009.2 L416.62,1007.9 L418.12,1006.7 L419.62,1005.6 L421.13,1004.5 L422.63,1003.6 L424.14,1002.8 L425.64,1002.1 L427.14,1001.5 L428.65,1001.1 L430.15,1000.8 L431.65,1000.7 L433.16,1000.8 L434.66,1001.0 L436.17,1001.5 L437.67,1002.2 L439.17,1003.1 L440.68,1004.3 L442.18,1005.8 L443.68,1007.6 L445.19,1009.6 L446.69,1012.0 L448.20,1014.8 L449.70,1017.8 L451.20,1021.2 L452.71,1025.0 L454.21,1029.0 L455.71,1033.2 L457.22,1037.7 L458.72,1042.3 L460.23,1047.0 L461.73,1051.8 L463.23,1056.6 L464.74,1061.4 L466.24,1066.1 L467.74,1070.8 L469.25,1075.4 L470.75,1079.9 L472.26,1084.2 L473.76,1088.4 L475.26,1092.4 L476.77,1096.4 L478.27,1100.1 L479.77,1103.8 L481.28,1107.3 L482.78,1110.7 L484.29,1114.0 L485.79,1117.1 L487.29,1120.2 L488.80,1123.2 L490.30,1126.1 L491.80,1128.9 L493.31,1131.6 L494.81,1134.3 L496.32,1136.8 L497.82,1139.2 L499.32,1141.5 L500.83,1143.7 L502.33,1145.9 L503.83,1147.9 L505.34,1149.8 L506.84,1151.7 L508.35,1153.5 L509.85,1155.2 L511.35,1156.8 L512.86,1158.4 L514.36,1159.9 L515.86,1161.4 L517.37,1162.8 L518.87,1164.1 L520.38,1165.4 L521.88,1166.6 L523.38,1167.7 L524.89,1168.8 L526.39,1169.8 L527.89,1170.8 L529.40,1171.7 L530.90,1172.5 L532.41,1173.4 L533.91,1174.2 L535.41,1174.9 L536.92,1175.7 L538.42,1176.4 L539.92,1177.1 L541.43,1177.8 L542.93,1178.4 L544.44,1178.9 L545.94,1179.5 L547.44,1179.9 L548.95,1180.3 L550.45,1180.7 L551.95,1181.1 L553.46,1181.3 L554.96,1181.6 L556.47,1181.8 L557.97,1182.0 L559.47,1182.1 L560.98,1182.2 L562.48,1182.3 L563.98,1182.4 L565.49,1182.4 L566.99,1182.4 L568.50,1182.4 L570.00,1182.4 L571.50,1182.3 L573.01,1182.2 L574.51,1182.1 L576.02,1182.0 L577.52,1181.8 L579.02,1181.7 L580.53,1181.5 L582.03,1181.3 L583.53,1181.0 L585.04,1180.8 L586.54,1180.6 L588.05,1180.4 L589.55,1180.1 L591.05,1179.9 L592.56,1179.7 L594.06,1179.5 L595.56,1179.3 L597.07,1179.1 L598.57,1179.0 L600.08,1178.9 L601.58,1178.8 L603.08,1178.8 L604.59,1178.8 L606.09,1178.8 L607.59,1178.9 L609.10,1179.1 L610.60,1179.4 L612.11,1179.7 L613.61,1180.0 L615.11,1180.5 L616.62,1181.0 L618.12,1181.6 L619.62,1182.3 L621.13,1183.1 L622.63,1183.9 L624.14,1184.8 L625.64,1185.8 L627.14,1186.8 L628.65,1187.9 L630.15,1189.0 L631.65,1190.1 L633.16,1191.3 L634.66,1192.5 L636.17,1193.7 L637.67,1194.9 L639.17,1196.1 L640.68,1197.4 L642.18,1198.6 L643.68,1199.8 L645.19,1201.1 L646.69,1202.3 L648.20,1203.5 L649.70,1204.7 L651.20,1205.9 L652.71,1207.1 L654.21,1208.3 L655.71,1209.4 L657.22,1210.6 L658.72,1211.7 L660.23,1212.7 L661.73,1213.8 L663.23,1214.8 L664.74,1215.8 L666.24,1216.7 L667.74,1217.6 L669.25,1218.5 L670.75,1219.3 L672.26,1220.1 L673.76,1220.9 L675.26,1221.7 L676.77,1222.4 L678.27,1223.1 L679.77,1223.8 L681.28,1224.5 L682.78,1225.1 L684.29,1225.7 L685.79,1226.3 L687.29,1226.9 L688.80,1227.5 L690.30,1228.0 L691.80,1228.6 L693.31,1229.1 L694.81,1229.6 L696.32,1230.1 L697.82,1230.5 L699.32,1231.0 L700.83,1231.4 L702.33,1231.8 L703.83,1232.2 L705.34,1232.6 L706.84,1233.0 L708.35,1233.4 L709.85,1233.8 L711.35,1234.1 L712.86,1234.5 L714.36,1234.8 L715.86,1235.2 L717.37,1235.5 L718.87,1235.8 L720.38,1236.1 L721.88,1236.5 L723.38,1236.8 L724.89,1237.1 L726.39,1237.4 L727.89,1237.6 L729.40,1237.9 L730.90,1238.2 L732.41,1238.4 L733.91,1238.7 L735.41,1238.9 L736.92,1239.1 L738.42,1239.4 L739.92,1239.6 L741.43,1239.8 L742.93,1240.0 L744.44,1240.2 L745.94,1240.4 L747.44,1240.5 L748.95,1240.7 L750.45,1240.9 L751.95,1241.1 L753.46,1241.2 L754.96,1241.4 L756.47,1241.5 L757.97,1241.7 L759.47,1241.8 L760.98,1241.9 L762.48,1242.1 L763.98,1242.2 L765.49,1242.3 L766.99,1242.5 L768.50,1242.6 L770.00,1242.7 L771.50,1242.8 L773.01,1242.9 L774.51,1243.0 L776.02,1243.1 L777.52,1243.2 L779.02,1243.3 L780.53,1243.4 L782.03,1243.4 L783.53,1243.5 L785.04,1243.6 L786.54,1243.6 L788.05,1243.7 L789.55,1243.7 L791.05,1243.8 L792.56,1243.8 L794.06,1243.8 L795.56,1243.8 L797.07,1243.8 L798.57,1243.8 L800.08,1243.8 L801.58,1243.8 L803.08,1243.8 L804.59,1243.8 L806.09,1243.7 L807.59,1243.7 L809.10,1243.6 L810.60,1243.5 L812.11,1243.4 L813.61,1243.4 L815.11,1243.3 L816.62,1243.2 L818.12,1243.1 L819.62,1243.0 L821.13,1242.9 L822.63,1242.8 L824.14,1242.7 L825.64,1242.6 L827.14,1242.6 L828.65,1242.5 L830.15,1242.5 L831.65,1242.4 L833.16,1242.4 L834.66,1242.3 L836.17,1242.3 L837.67,1242.3 L839.17,1242.3 L840.68,1242.2 L842.18,1242.2 L843.68,1242.2 L845.19,1242.1 L846.69,1242.1 L848.20,1242.1 L849.70,1242.0 L851.20,1242.0 L852.71,1241.9 L854.21,1241.8 L855.71,1241.7 L857.22,1241.6 L858.72,1241.5 L860.23,1241.4 L861.73,1241.3 L863.23,1241.1 L864.74,1241.0 L866.24,1240.8 L867.74,1240.6 L869.25,1240.5 L870.75,1240.3 L872.26,1240.1 L873.76,1239.9 L875.26,1239.7 L876.77,1239.5 L878.27,1239.3 L879.77,1239.1 L881.28,1238.9 L882.78,1238.7 L884.29,1238.5 L885.79,1238.3 L887.29,1238.1 L888.80,1237.9 L890.30,1237.7 L891.80,1237.5 L893.31,1237.3 L894.81,1237.1 L896.32,1236.8 L897.82,1236.6 L899.32,1236.4 L900.83,1236.2 L902.33,1235.9 L903.83,1235.7 L905.34,1235.4 L906.84,1235.2 L908.35,1234.9 L909.85,1234.6 L911.35,1234.3 L912.86,1234.0 L914.36,1233.7 L915.86,1233.4 L917.37,1233.1 L918.87,1232.7 L920.38,1232.4 L921.88,1232.0 L923.38,1231.7 L924.89,1231.3 L926.39,1230.9 L927.89,1230.5 L929.40,1230.1 L930.90,1229.6 L932.41,1229.2 L933.91,1228.7 L935.41,1228.3 L936.92,1227.8 L938.42,1227.3 L939.92,1226.8 L941.43,1226.3 L942.93,1225.8 L944.44,1225.3 L945.94,1224.7 L947.44,1224.2 L948.95,1223.6 L950.45,1223.1 L951.95,1222.5 L953.46,1221.9 L954.96,1221.3 L956.47,1220.7 L957.97,1220.1 L959.47,1219.5 L960.98,1218.9 L962.48,1218.3 L963.98,1217.7 L965.49,1217.1 L966.99,1216.5 L968.50,1215.9 L970.00,1215.3 L971.50,1214.7 L973.01,1214.1 L974.51,1213.5 L976.02,1212.9 L977.52,1212.4 L979.02,1211.8 L980.53,1211.3 L982.03,1210.8 L983.53,1210.3 L985.04,1209.8 L986.54,1209.3 L988.05,1208.9 L989.55,1208.4 L991.05,1208.0 L992.56,1207.6 L994.06,1207.3 L995.56,1206.9 L997.07,1206.6 L998.57,1206.3 L1000.08,1206.0 L1001.58,1205.8 L1003.08,1205.6 L1004.59,1205.4 L1006.09,1205.2 L1007.59,1205.1 L1009.10,1205.0 L1010.60,1204.9 L1012.11,1204.9 L1013.61,1204.9 L1015.11,1204.9 L1016.62,1205.0 L1018.12,1205.0 L1019.62,1205.2 L1021.13,1205.3 L1022.63,1205.4 L1024.14,1205.6 L1025.64,1205.8 L1027.14,1206.0 L1028.65,1206.3 L1030.15,1206.6 L1031.65,1207.0 L1033.16,1207.4 L1034.66,1207.8 L1036.17,1208.3 L1037.67,1208.9 L1039.17,1209.5 L1040.68,1210.1 L1042.18,1210.8 L1043.68,1211.5 L1045.19,1212.2 L1046.69,1213.0 L1048.20,1213.9 L1049.70,1214.7 L1051.20,1215.6 L1052.71,1216.5 L1054.21,1217.4 L1055.71,1218.4 L1057.22,1219.3 L1058.72,1220.3 L1060.23,1221.3 L1061.73,1222.3 L1063.23,1223.3 L1064.74,1224.3 L1066.24,1225.4 L1067.74,1226.4 L1069.25,1227.4 L1070.75,1228.3 L1072.26,1229.3 L1073.76,1230.3 L1075.26,1231.2 L1076.77,1232.1 L1078.27,1233.0 L1079.77,1233.9 L1081.28,1234.7 L1082.78,1235.5 L1084.29,1236.2 L1085.79,1237.0 L1087.29,1237.6 L1088.80,1238.3 L1090.30,1238.9 L1091.80,1239.4 L1093.31,1240.0 L1094.81,1240.5 L1096.32,1241.0 L1097.82,1241.4 L1099.32,1241.9 L1100.83,1242.4 L1102.33,1242.8 L1103.83,1243.3 L1105.34,1243.7 L1106.84,1244.1 L1108.35,1244.6 L1109.85,1245.0 L1111.35,1245.4 L1112.86,1245.9 L1114.36,1246.3 L1115.86,1246.7 L1117.37,1247.1 L1118.87,1247.6 L1120.38,1248.0 L1121.88,1248.4 L1123.38,1248.9 L1124.89,1249.3 L1126.39,1249.8 L1127.89,1250.2 L1129.40,1250.6 L1130.90,1251.1 L1132.41,1251.5 L1133.91,1252.0 L1135.41,1252.4 L1136.92,1252.8 L1138.42,1253.3 L1139.92,1253.7 L1141.43,1254.1 L1142.93,1254.6 L1144.44,1255.0 L1145.94,1255.4 L1147.44,1255.8 L1148.95,1256.2 L1150.45,1256.6 L1151.95,1256.9 L1153.46,1257.3 L1154.96,1257.6 L1156.47,1258.0 L1157.97,1258.3 L1159.47,1258.6 L1160.98,1258.9 L1162.48,1259.1 L1163.98,1259.4 L1165.49,1259.7 L1166.99,1259.9 L1168.50,1260.2 L1170.00,1260.4 L1171.50,1260.6 L1173.01,1260.8 L1174.51,1261.0 L1176.02,1261.2 L1177.52,1261.4 L1179.02,1261.6 L1180.53,1261.8 L1182.03,1262.0 L1183.53,1262.1 L1185.04,1262.3 L1186.54,1262.5 L1188.05,1262.6 L1189.55,1262.8 L1191.05,1262.9 L1192.56,1263.1 L1194.06,1263.2 L1195.56,1263.4 L1197.07,1263.5 L1198.57,1263.7 L1200.08,1263.8 L1201.58,1263.9 L1203.08,1264.1 L1204.59,1264.2 L1206.09,1264.3 L1207.59,1264.4 L1209.10,1264.6 L1210.60,1264.7 L1212.11,1264.8 L1213.61,1264.9 L1215.11,1265.1 L1216.62,1265.2 L1218.12,1265.3 L1219.62,1265.4 L1221.13,1265.5 L1222.63,1265.6 L1224.14,1265.8 L1225.64,1265.9 L1227.14,1266.0 L1228.65,1266.1 L1230.15,1266.2 L1231.65,1266.3 L1233.16,1266.4 L1234.66,1266.5 L1236.17,1266.6 L1237.67,1266.7 L1239.17,1266.8 L1240.68,1266.9 L1242.18,1267.0 L1243.68,1267.1 L1245.19,1267.2 L1246.69,1267.3 L1248.20,1267.3 L1249.70,1267.4 L1251.20,1267.5 L1252.71,1267.6 L1254.21,1267.7 L1255.71,1267.8 L1257.22,1267.8 L1258.72,1267.9 L1260.23,1268.0 L1261.73,1268.1 L1263.23,1268.1 L1264.74,1268.2 L1266.24,1268.3 L1267.74,1268.3 L1269.25,1268.4 L1270.75,1268.4 L1272.26,1268.5 L1273.76,1268.6 L1275.26,1268.6 L1276.77,1268.7 L1278.27,1268.7 L1279.77,1268.8 L1281.28,1268.8 L1282.78,1268.8 L1284.29,1268.9 L1285.79,1268.9 L1287.29,1269.0 L1288.80,1269.0 L1290.30,1269.0 L1291.80,1269.1 L1293.31,1269.1 L1294.81,1269.1 L1296.32,1269.1 L1297.82,1269.2 L1299.32,1269.2 L1300.83,1269.2 L1302.33,1269.2 L1303.83,1269.2 L1305.34,1269.2 L1306.84,1269.3 L1308.35,1269.3 L1309.85,1269.3 L1311.35,1269.3 L1312.86,1269.3 L1314.36,1269.3 L1315.86,1269.3 L1317.37,1269.3 L1318.87,1269.3 L1320.38,1269.3 L1321.88,1269.4 L1323.38,1269.4 L1324.89,1269.4 L1326.39,1269.4 L1327.89,1269.4 L1329.40,1269.4 L1330.90,1269.4 L1332.41,1269.4 L1333.91,1269.4 L1335.41,1269.4 L1336.92,1269.4 L1338.42,1269.4 L1339.92,1269.4 L1341.43,1269.4 L1342.93,1269.4 L1344.44,1269.4 L1345.94,1269.4 L1347.44,1269.4 L1348.95,1269.4 L1350.45,1269.4 L1351.95,1269.4 L1353.46,1269.5 L1354.96,1269.5 L1356.47,1269.5 L1357.97,1269.5 L1359.47,1269.5 L1360.98,1269.5 L1362.48,1269.5 L1363.98,1269.5 L1365.49,1269.5 L1366.99,1269.5 L1368.50,1269.5 L1370.00,1269.5 L1371.50,1269.6 L1373.01,1269.6 L1374.51,1269.6 L1376.02,1269.6 L1377.52,1269.6 L1379.02,1269.6 L1380.53,1269.6 L1382.03,1269.6 L1383.53,1269.6 L1385.04,1269.6 L1386.54,1269.7 L1388.05,1269.7 L1389.55,1269.7 L1391.05,1269.7 L1392.56,1269.7 L1394.06,1269.7 L1395.56,1269.7 L1397.07,1269.7 L1398.57,1269.7 L1400.08,1269.7 L1401.58,1269.8 L1403.08,1269.8 L1404.59,1269.8 L1406.09,1269.8 L1407.59,1269.8 L1409.10,1269.8 L1410.60,1269.8 L1412.11,1269.8 L1413.61,1269.8 L1415.11,1269.8 L1416.62,1269.9 L1418.12,1269.9 L1419.62,1269.9 L1421.13,1269.9 L1422.63,1269.9 L1424.14,1269.9 L1425.64,1269.9 L1427.14,1269.9 L1428.65,1269.9 L1430.15,1269.9 L1431.65,1270.0 L1433.16,1270.0 L1434.66,1270.0 L1436.17,1270.0 L1437.67,1270.0 L1439.17,1270.0 L1440.68,1270.0 L1442.18,1270.0 L1443.68,1270.0 L1445.19,1270.0 L1446.69,1270.0 L1448.20,1270.0 L1449.70,1270.0 L1451.20,1270.1 L1452.71,1270.1 L1454.21,1270.1 L1455.71,1270.1 L1457.22,1270.1 L1458.72,1270.1 L1460.23,1270.1 L1461.73,1270.1 L1463.23,1270.1 L1464.74,1270.1 L1466.24,1270.1 L1467.74,1270.1 L1469.25,1270.1 L1470.75,1270.1 L1472.26,1270.1 L1473.76,1270.1 L1475.26,1270.2 L1476.77,1270.2 L1478.27,1270.2 L1479.77,1270.2 L1481.28,1270.2 L1482.78,1270.2 L1484.29,1270.2 L1485.79,1270.2 L1487.29,1270.2 L1488.80,1270.2 L1490.30,1270.2 L1491.80,1270.2 L1493.31,1270.2 L1494.81,1270.2 L1496.32,1270.2 L1497.82,1270.2 L1499.32,1270.2 L1500.83,1270.2 L1502.33,1270.2 L1503.83,1270.2 L1505.34,1270.2 L1506.84,1270.2 L1508.35,1270.2 L1509.85,1270.2 L1511.35,1270.2 L1512.86,1270.2 L1514.36,1270.2 L1515.86,1270.2 L1517.37,1270.2 L1518.87,1270.2 L1520.38,1270.2 L1521.88,1270.2 L1523.38,1270.2 L1524.89,1270.2 L1526.39,1270.2 L1527.89,1270.2 L1529.40,1270.2 L1530.90,1270.2 L1532.41,1270.2 L1533.91,1270.2 L1535.41,1270.2 L1536.92,1270.2 L1538.42,1270.1 L1539.92,1270.1 L1541.43,1270.1 L1542.93,1270.1 L1544.44,1270.1 L1545.94,1270.1 L1547.44,1270.1 L1548.95,1270.1 L1550.45,1270.1 L1551.95,1270.1 L1553.46,1270.1 L1554.96,1270.1 L1556.47,1270.1 L1557.97,1270.1 L1559.47,1270.1 L1560.98,1270.1 L1562.48,1270.1 L1563.98,1270.0 L1565.49,1270.0 L1566.99,1270.0 L1568.50,1270.0 L1570.00,1270.0 L1571.50,1270.0 L1573.01,1270.0 L1574.51,1270.0 L1576.02,1270.0 L1577.52,1270.0 L1579.02,1270.0 L1580.53,1270.0 L1582.03,1269.9 L1583.53,1269.9 L1585.04,1269.9 L1586.54,1269.9 L1588.05,1269.9 L1589.55,1269.9 L1591.05,1269.9 L1592.56,1269.9 L1594.06,1269.9 L1595.56,1269.9 L1597.07,1269.9 L1598.57,1269.8 L1600.08,1269.8 L1601.58,1269.8 L1603.08,1269.8 L1604.59,1269.8 L1606.09,1269.8 L1607.59,1269.8 L1609.10,1269.8 L1610.60,1269.8 L1612.11,1269.8 L1613.61,1269.7 L1615.11,1269.7 L1616.62,1269.7 L1618.12,1269.7 L1619.62,1269.7 L1621.13,1269.7 L1622.63,1269.7 L1624.14,1269.7 L1625.64,1269.7 L1627.14,1269.6 L1628.65,1269.6 L1630.15,1269.6 L1631.65,1269.6 L1633.16,1269.6 L1634.66,1269.6 L1636.17,1269.6 L1637.67,1269.6 L1639.17,1269.6 L1640.68,1269.5 L1642.18,1269.5"/>
</g></g>
<path fill="#000" fill-rule="evenodd" d="M254.1,54.7H2187.0V1318.8H254.1Z M262.1,60.6H2179.0V1312.9H262.1Z"/>
<rect x="228.3" y="149.0" width="26.8" height="6" fill="#000"/>
<rect x="228.3" y="524.3" width="26.8" height="6" fill="#000"/>
<rect x="228.3" y="899.7" width="26.8" height="6" fill="#000"/>
<rect x="228.3" y="1275.0" width="26.8" height="6" fill="#000"/>
<rect x="511.6" y="1317.8" width="7.4" height="22.7" fill="#000"/>
<rect x="939.1" y="1317.8" width="7.4" height="22.7" fill="#000"/>
<rect x="1366.6" y="1317.8" width="7.4" height="22.7" fill="#000"/>
<rect x="1794.7" y="1317.8" width="7.4" height="22.7" fill="#000"/>
<text transform="translate(208,170.8) scale(1.205,1)" font-size="62" text-anchor="end">0.6</text>
<text transform="translate(208,546.1) scale(1.205,1)" font-size="62" text-anchor="end">0.4</text>
<text transform="translate(208,921.5) scale(1.205,1)" font-size="62" text-anchor="end">0.2</text>
<text transform="translate(208,1296.8) scale(1.205,1)" font-size="62" text-anchor="end">0.0</text>
<text transform="translate(515.8,1404.3) scale(1.19,1)" font-size="62" text-anchor="middle">400</text>
<text transform="translate(943.3,1404.3) scale(1.19,1)" font-size="62" text-anchor="middle">500</text>
<text transform="translate(1370.8,1404.3) scale(1.19,1)" font-size="62" text-anchor="middle">600</text>
<text transform="translate(1798.9,1404.3) scale(1.19,1)" font-size="62" text-anchor="middle">700</text>
<text transform="translate(1221.5,1510) scale(1.2,1)" font-size="67" text-anchor="middle">Wavelength (nm)</text>
<text transform="translate(81.7,687) rotate(-90) scale(1,1.2)" font-size="65" text-anchor="middle">Absorbance</text>
<rect x="1709.2" y="65.6" width="462" height="341" fill="#808080"/><rect x="1711.5" y="67.4" width="457.4" height="337.4" fill="#fff"/>
<g transform="scale(1.33,1)" stroke-width="9.8" stroke-linecap="round">
<line x1="1295.11" y1="112.4" x2="1414.66" y2="112.4" stroke="#4f4f4f"/>
<line x1="1295.11" y1="194.4" x2="1414.66" y2="194.4" stroke="#ff3a3a"/>
<line x1="1295.11" y1="276.4" x2="1414.66" y2="276.4" stroke="#0066de"/>
<line x1="1295.11" y1="358.2" x2="1414.66" y2="358.2" stroke="#00ad66"/>
</g>
<text transform="translate(1920.6,136.7) scale(1.231,1)" font-size="66" text-anchor="start">10 min</text>
<text transform="translate(1920.6,218.7) scale(1.231,1)" font-size="66" text-anchor="start">20 min</text>
<text transform="translate(1920.6,300.7) scale(1.231,1)" font-size="66" text-anchor="start">30 min</text>
<text transform="translate(1920.6,382.5) scale(1.231,1)" font-size="66" text-anchor="start">60 min</text>
</svg></body></html>
